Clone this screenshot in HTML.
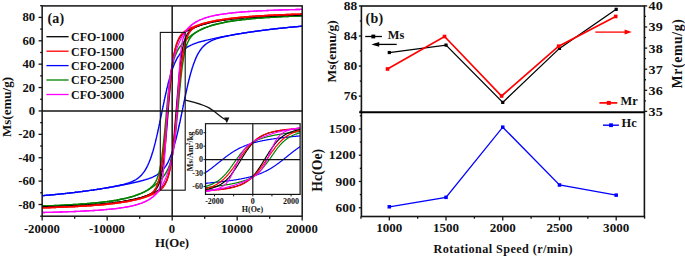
<!DOCTYPE html>
<html><head><meta charset="utf-8"><style>
html,body{margin:0;padding:0;background:#fff;width:685px;height:257px;overflow:hidden}
svg{display:block}
text{font-family:"Liberation Serif",serif;font-weight:bold}
</style></head><body>
<svg width="685" height="257" viewBox="0 0 685 257">
<clipPath id="ca"><rect x="42.15" y="5.9" width="260.05" height="210.29999999999998"/></clipPath>
<g clip-path="url(#ca)" fill="none" stroke-linejoin="round">
<path d="M42.2,195.7 43.3,195.6 44.4,195.5 45.5,195.4 46.6,195.3 47.7,195.2 48.8,195.1 50.0,195.0 51.1,194.9 52.2,194.8 53.3,194.7 54.4,194.6 55.5,194.5 56.6,194.4 57.7,194.3 58.8,194.2 59.9,194.1 61.1,193.9 62.2,193.8 63.3,193.7 64.4,193.6 65.5,193.5 66.6,193.4 67.7,193.2 68.8,193.1 69.9,193.0 71.1,192.9 72.2,192.7 73.3,192.6 74.4,192.5 75.5,192.3 76.6,192.2 77.7,192.1 78.8,191.9 79.9,191.8 81.0,191.6 82.2,191.5 83.3,191.3 84.4,191.2 85.5,191.1 86.6,190.9 87.7,190.8 88.8,190.6 89.9,190.4 91.0,190.3 92.2,190.1 93.3,190.0 94.4,189.8 95.5,189.6 96.6,189.5 97.7,189.3 98.8,189.1 99.9,189.0 101.0,188.8 102.1,188.6 103.3,188.4 104.4,188.3 105.5,188.1 106.6,187.9 107.7,187.7 108.8,187.5 109.9,187.3 111.0,187.1 112.1,186.9 113.3,186.7 114.4,186.5 115.5,186.3 116.6,186.1 117.7,185.9 118.8,185.7 119.9,185.5 121.0,185.3 122.1,185.1 123.3,184.9 124.4,184.7 125.5,184.4 126.6,184.2 127.7,184.0 128.8,183.8 129.9,183.5 131.0,183.3 132.1,183.0 133.2,182.8 134.4,182.5 135.5,182.3 136.6,182.0 137.7,181.8 138.8,181.5 139.9,181.2 141.0,180.9 141.6,180.8 142.1,180.6 142.7,180.5 143.2,180.3 143.8,180.2 144.4,180.0 144.9,179.9 145.5,179.7 146.0,179.5 146.6,179.4 147.1,179.2 147.7,179.0 148.2,178.8 148.8,178.6 149.3,178.4 149.9,178.2 150.5,178.0 151.0,177.8 151.6,177.6 152.1,177.3 152.7,177.1 153.2,176.9 153.7,176.6 154.1,176.4 154.6,176.1 155.1,175.9 155.6,175.6 156.1,175.3 156.5,175.1 157.0,174.8 157.4,174.5 157.9,174.2 158.3,173.9 158.7,173.6 159.2,173.3 159.6,172.9 160.0,172.6 160.4,172.3 160.8,171.9 161.2,171.6 161.6,171.2 162.0,170.8 162.3,170.4 162.7,170.0 163.0,169.6 163.4,169.2 163.7,168.8 164.1,168.4 164.4,167.9 164.7,167.5 165.0,167.1 165.3,166.6 165.6,166.2 165.9,165.8 166.2,165.3 166.5,164.8 166.8,164.3 167.1,163.8 167.4,163.3 167.7,162.8 167.9,162.3 168.2,161.8 168.4,161.3 168.6,160.8 168.9,160.3 169.1,159.8 169.4,159.3 169.6,158.7 169.9,158.1 170.1,157.6 170.3,157.0 170.6,156.4 170.8,155.8 171.0,155.2 171.2,154.7 171.4,154.2 171.6,153.7 171.8,153.1 172.0,152.6 172.2,152.0 172.4,151.4 172.6,150.9 172.8,150.3 173.0,149.7 173.2,149.0 173.4,148.4 173.6,147.8 173.8,147.1 174.0,146.5 174.2,145.8 174.4,145.2 174.5,144.5 174.7,143.8 174.9,143.1 175.1,142.4 175.3,141.6 175.5,140.9 175.7,140.3 175.8,139.8 176.0,139.2 176.1,138.6 176.3,138.1 176.4,137.5 176.5,136.9 176.7,136.3 176.8,135.7 177.0,135.1 177.1,134.5 177.3,133.9 177.4,133.3 177.6,132.6 177.7,132.0 177.9,131.4 178.0,130.7 178.2,130.1 178.3,129.5 178.5,128.8 178.6,128.2 178.7,127.5 178.9,126.8 179.0,126.2 179.2,125.5 179.3,124.8 179.5,124.1 179.6,123.5 179.8,122.8 179.9,122.1 180.1,121.4 180.2,120.7 180.4,120.0 180.5,119.3 180.6,118.6 180.8,117.9 180.9,117.2 181.1,116.5 181.2,115.8 181.4,115.1 181.5,114.4 181.7,113.7 181.8,113.0 182.0,112.3 182.1,111.5 182.3,110.8 182.4,110.1 182.6,109.4 182.7,108.7 182.8,108.0 183.0,107.2 183.1,106.5 183.3,105.8 183.4,105.1 183.6,104.4 183.7,103.7 183.9,103.0 184.0,102.3 184.2,101.5 184.3,100.8 184.5,100.1 184.6,99.4 184.7,98.7 184.9,98.0 185.0,97.3 185.2,96.6 185.3,95.9 185.5,95.2 185.6,94.6 185.8,93.9 185.9,93.2 186.1,92.5 186.2,91.8 186.4,91.2 186.5,90.5 186.7,89.8 186.8,89.2 186.9,88.5 187.1,87.9 187.2,87.2 187.4,86.6 187.5,85.9 187.7,85.3 187.8,84.7 188.0,84.0 188.1,83.4 188.3,82.8 188.4,82.2 188.6,81.6 188.7,81.0 188.8,80.4 189.0,79.8 189.1,79.2 189.3,78.6 189.4,78.0 189.6,77.5 189.7,76.9 189.9,76.3 190.0,75.8 190.2,75.1 190.4,74.3 190.6,73.6 190.8,72.9 191.0,72.2 191.2,71.6 191.4,70.9 191.6,70.2 192.2,68.1 192.8,66.4 193.3,64.7 193.9,63.2 194.5,61.7 195.0,60.2 195.6,58.9 196.1,57.6 196.7,56.4 197.2,55.3 197.8,54.2 198.3,53.2 198.9,52.3 199.5,51.4 200.0,50.5 200.6,49.8 201.1,49.0 201.7,48.3 202.2,47.6 202.8,47.0 203.3,46.4 203.9,45.9 204.5,45.3 205.0,44.9 205.6,44.4 206.1,43.9 206.7,43.5 207.2,43.1 207.8,42.8 208.3,42.4 208.9,42.1 209.4,41.8 210.0,41.5 210.6,41.2 211.1,40.9 211.7,40.6 212.2,40.4 212.8,40.1 213.3,39.9 213.9,39.7 214.4,39.5 215.0,39.3 215.6,39.1 216.1,38.9 216.7,38.7 217.2,38.5 217.8,38.4 218.3,38.2 218.9,38.0 219.4,37.9 220.0,37.7 220.6,37.6 221.7,37.3 222.8,37.0 223.9,36.8 225.0,36.5 226.1,36.3 227.2,36.0 228.3,35.8 229.4,35.6 230.5,35.4 231.7,35.1 232.8,34.9 233.9,34.7 235.0,34.5 236.1,34.3 237.2,34.1 238.3,33.9 239.4,33.8 240.5,33.6 241.7,33.4 242.8,33.2 243.9,33.0 245.0,32.9 246.1,32.7 247.2,32.5 248.3,32.3 249.4,32.2 250.5,32.0 251.6,31.9 252.8,31.7 253.9,31.5 255.0,31.4 256.1,31.2 257.2,31.1 258.3,30.9 259.4,30.8 260.5,30.6 261.6,30.5 262.8,30.3 263.9,30.2 265.0,30.1 266.1,29.9 267.2,29.8 268.3,29.6 269.4,29.5 270.5,29.4 271.6,29.2 272.8,29.1 273.9,29.0 275.0,28.9 276.1,28.7 277.2,28.6 278.3,28.5 279.4,28.4 280.5,28.2 281.6,28.1 282.7,28.0 283.9,27.9 285.0,27.8 286.1,27.7 287.2,27.6 288.3,27.4 289.4,27.3 290.5,27.2 291.6,27.1 292.7,27.0 293.9,26.9 295.0,26.8 296.1,26.7 297.2,26.6 298.3,26.5 299.4,26.4 300.5,26.3 301.6,26.2 302.2,26.2" stroke="#0000ff" stroke-width="1.4"/>
<path d="M42.2,195.7 43.3,195.6 44.4,195.5 45.5,195.4 46.6,195.3 47.7,195.2 48.8,195.1 50.0,195.0 51.1,194.9 52.2,194.8 53.3,194.7 54.4,194.6 55.5,194.5 56.6,194.4 57.7,194.3 58.8,194.2 59.9,194.1 61.1,193.9 62.2,193.8 63.3,193.7 64.4,193.6 65.5,193.5 66.6,193.4 67.7,193.2 68.8,193.1 69.9,193.0 71.1,192.9 72.2,192.7 73.3,192.6 74.4,192.5 75.5,192.3 76.6,192.2 77.7,192.1 78.8,191.9 79.9,191.8 81.0,191.6 82.2,191.5 83.3,191.3 84.4,191.2 85.5,191.1 86.6,190.9 87.7,190.8 88.8,190.6 89.9,190.4 91.0,190.3 92.2,190.1 93.3,190.0 94.4,189.8 95.5,189.6 96.6,189.5 97.7,189.3 98.8,189.1 99.9,189.0 101.0,188.8 102.1,188.6 103.3,188.4 104.4,188.2 105.5,188.0 106.6,187.9 107.7,187.7 108.8,187.5 109.9,187.3 111.0,187.1 112.1,186.9 113.3,186.7 114.4,186.4 115.5,186.2 116.6,186.0 117.7,185.8 118.8,185.5 119.9,185.3 121.0,185.0 122.1,184.7 123.3,184.5 124.4,184.2 124.9,184.0 125.5,183.9 126.0,183.7 126.6,183.5 127.1,183.4 127.7,183.2 128.2,183.0 128.8,182.8 129.4,182.6 129.9,182.4 130.5,182.2 131.0,182.0 131.6,181.8 132.1,181.5 132.7,181.3 133.2,181.0 133.8,180.7 134.4,180.4 134.9,180.1 135.5,179.8 136.0,179.5 136.6,179.1 137.1,178.8 137.7,178.4 138.2,178.0 138.8,177.5 139.4,177.0 139.9,176.6 140.5,176.0 141.0,175.5 141.6,174.9 142.1,174.3 142.7,173.6 143.2,172.9 143.8,172.1 144.4,171.4 144.9,170.5 145.5,169.6 146.0,168.7 146.6,167.7 147.1,166.6 147.7,165.5 148.2,164.3 148.8,163.0 149.3,161.7 149.9,160.2 150.5,158.7 151.0,157.2 151.6,155.5 152.1,153.8 152.7,152.0 152.9,151.3 153.1,150.7 153.3,150.0 153.5,149.3 153.7,148.6 153.9,147.9 154.0,147.2 154.2,146.5 154.4,145.7 154.6,145.2 154.7,144.6 154.9,144.0 155.0,143.5 155.2,142.9 155.3,142.3 155.5,141.7 155.6,141.1 155.8,140.5 155.9,139.9 156.0,139.3 156.2,138.7 156.3,138.1 156.5,137.4 156.6,136.8 156.8,136.2 156.9,135.5 157.1,134.9 157.2,134.3 157.4,133.6 157.5,132.9 157.7,132.3 157.8,131.6 158.0,131.0 158.1,130.3 158.2,129.6 158.4,128.9 158.5,128.3 158.7,127.6 158.8,126.9 159.0,126.2 159.1,125.5 159.3,124.8 159.4,124.1 159.6,123.4 159.7,122.7 159.9,122.0 160.0,121.3 160.1,120.6 160.3,119.9 160.4,119.2 160.6,118.5 160.7,117.7 160.9,117.0 161.0,116.3 161.2,115.6 161.3,114.9 161.5,114.2 161.6,113.5 161.8,112.7 161.9,112.0 162.1,111.3 162.2,110.6 162.3,109.9 162.5,109.2 162.6,108.5 162.8,107.7 162.9,107.0 163.1,106.3 163.2,105.6 163.4,104.9 163.5,104.2 163.7,103.5 163.8,102.8 164.0,102.1 164.1,101.4 164.2,100.7 164.4,100.0 164.5,99.3 164.7,98.7 164.8,98.0 165.0,97.3 165.1,96.6 165.3,96.0 165.4,95.3 165.6,94.6 165.7,94.0 165.9,93.3 166.0,92.7 166.2,92.0 166.3,91.4 166.4,90.7 166.6,90.1 166.7,89.5 166.9,88.8 167.0,88.2 167.2,87.6 167.3,87.0 167.5,86.4 167.6,85.8 167.8,85.2 167.9,84.6 168.1,84.0 168.2,83.4 168.3,82.9 168.5,82.3 168.6,81.7 168.8,81.2 169.0,80.4 169.2,79.7 169.4,79.0 169.6,78.3 169.8,77.6 170.0,76.9 170.2,76.2 170.3,75.6 170.5,74.9 170.7,74.3 170.9,73.6 171.1,73.0 171.3,72.4 171.5,71.8 171.7,71.2 171.9,70.6 172.1,70.0 172.3,69.5 172.5,68.9 172.7,68.4 172.9,67.8 173.1,67.3 173.3,66.8 173.5,66.3 173.7,65.6 174.0,65.0 174.2,64.4 174.4,63.9 174.7,63.3 174.9,62.7 175.2,62.2 175.4,61.7 175.7,61.2 175.9,60.7 176.2,60.2 176.4,59.7 176.6,59.2 176.9,58.7 177.2,58.2 177.5,57.7 177.8,57.2 178.1,56.7 178.4,56.2 178.7,55.8 179.0,55.3 179.3,54.9 179.6,54.5 179.9,54.0 180.3,53.6 180.6,53.2 180.9,52.7 181.3,52.3 181.6,51.9 182.0,51.6 182.3,51.2 182.7,50.8 183.1,50.4 183.5,50.1 183.9,49.7 184.3,49.4 184.7,49.1 185.0,48.7 185.5,48.4 185.9,48.1 186.4,47.8 186.8,47.5 187.2,47.2 187.7,46.9 188.1,46.6 188.6,46.4 189.1,46.1 189.6,45.8 190.1,45.6 190.6,45.3 191.0,45.1 191.5,44.9 192.2,44.6 192.8,44.3 193.3,44.1 193.9,43.9 194.5,43.7 195.0,43.5 195.6,43.3 196.1,43.1 196.7,42.9 197.2,42.7 197.8,42.5 198.3,42.4 198.9,42.2 199.5,42.0 200.0,41.9 200.6,41.7 201.1,41.6 201.7,41.4 202.2,41.3 202.8,41.1 203.3,41.0 204.5,40.7 205.6,40.4 206.7,40.1 207.8,39.9 208.9,39.6 210.0,39.4 211.1,39.1 212.2,38.9 213.3,38.6 214.4,38.4 215.6,38.1 216.7,37.9 217.8,37.7 218.9,37.5 220.0,37.2 221.1,37.0 222.2,36.8 223.3,36.6 224.4,36.4 225.6,36.2 226.7,36.0 227.8,35.8 228.9,35.6 230.0,35.4 231.1,35.2 232.2,35.0 233.3,34.8 234.4,34.6 235.5,34.4 236.7,34.2 237.8,34.0 238.9,33.8 240.0,33.6 241.1,33.5 242.2,33.3 243.3,33.1 244.4,32.9 245.5,32.8 246.7,32.6 247.8,32.4 248.9,32.3 250.0,32.1 251.1,31.9 252.2,31.8 253.3,31.6 254.4,31.5 255.5,31.3 256.6,31.1 257.8,31.0 258.9,30.8 260.0,30.7 261.1,30.6 262.2,30.4 263.3,30.3 264.4,30.1 265.5,30.0 266.6,29.8 267.8,29.7 268.9,29.6 270.0,29.4 271.1,29.3 272.2,29.2 273.3,29.0 274.4,28.9 275.5,28.8 276.6,28.7 277.7,28.5 278.9,28.4 280.0,28.3 281.1,28.2 282.2,28.1 283.3,28.0 284.4,27.8 285.5,27.7 286.6,27.6 287.7,27.5 288.9,27.4 290.0,27.3 291.1,27.2 292.2,27.1 293.3,27.0 294.4,26.9 295.5,26.8 296.6,26.7 297.7,26.6 298.8,26.5 300.0,26.4 301.1,26.3 302.2,26.2" stroke="#0000ff" stroke-width="1.4"/>
<path d="M42.2,206.1 43.3,206.1 44.4,206.0 45.5,206.0 46.6,205.9 47.7,205.9 48.8,205.8 50.0,205.8 51.1,205.8 52.2,205.7 53.3,205.7 54.4,205.6 55.5,205.6 56.6,205.5 57.7,205.5 58.8,205.4 59.9,205.4 61.1,205.3 62.2,205.3 63.3,205.2 64.4,205.1 65.5,205.1 66.6,205.0 67.7,205.0 68.8,204.9 69.9,204.8 71.1,204.8 72.2,204.7 73.3,204.6 74.4,204.6 75.5,204.5 76.6,204.4 77.7,204.4 78.8,204.3 79.9,204.2 81.0,204.1 82.2,204.1 83.3,204.0 84.4,203.9 85.5,203.8 86.6,203.7 87.7,203.6 88.8,203.5 89.9,203.4 91.0,203.3 92.2,203.2 93.3,203.1 94.4,203.0 95.5,202.9 96.6,202.8 97.7,202.7 98.8,202.6 99.9,202.5 101.0,202.3 102.1,202.2 103.3,202.1 104.4,202.0 105.5,201.8 106.6,201.7 107.7,201.5 108.8,201.4 109.9,201.2 111.0,201.1 112.1,200.9 113.3,200.7 114.4,200.5 115.5,200.4 116.6,200.2 117.7,200.0 118.8,199.8 119.9,199.5 121.0,199.3 122.1,199.1 123.3,198.9 124.4,198.6 125.5,198.4 126.6,198.1 127.7,197.8 128.8,197.5 129.4,197.4 129.9,197.2 130.5,197.1 131.0,196.9 131.6,196.8 132.1,196.6 132.7,196.4 133.2,196.3 133.8,196.1 134.4,195.9 134.9,195.7 135.5,195.5 136.0,195.3 136.6,195.1 137.1,194.9 137.7,194.7 138.2,194.5 138.8,194.3 139.4,194.1 139.9,193.9 140.5,193.6 141.0,193.4 141.6,193.2 142.1,192.9 142.7,192.7 143.2,192.4 143.8,192.1 144.4,191.9 144.9,191.6 145.5,191.3 146.0,191.0 146.6,190.7 147.1,190.4 147.7,190.1 148.2,189.8 148.8,189.4 149.3,189.1 149.9,188.7 150.5,188.4 151.0,188.0 151.6,187.6 152.1,187.2 152.7,186.8 153.1,186.5 153.6,186.2 154.0,185.9 154.4,185.5 154.8,185.2 155.2,184.9 155.6,184.6 156.0,184.2 156.4,183.9 156.8,183.6 157.2,183.2 157.6,182.9 158.0,182.5 158.3,182.1 158.7,181.7 159.1,181.4 159.5,181.0 159.9,180.6 160.3,180.2 160.6,179.8 161.0,179.4 161.3,179.0 161.7,178.6 162.0,178.2 162.3,177.8 162.7,177.4 163.0,177.0 163.4,176.6 163.7,176.1 164.1,175.6 164.4,175.2 164.7,174.8 165.0,174.3 165.3,173.9 165.6,173.4 165.9,173.0 166.2,172.5 166.4,172.0 166.7,171.4 167.0,170.9 167.3,170.4 167.5,170.0 167.8,169.5 168.0,168.9 168.3,168.4 168.5,167.8 168.7,167.3 169.0,166.7 169.2,166.0 169.4,165.5 169.6,165.0 169.8,164.4 170.0,163.8 170.2,163.2 170.4,162.6 170.6,161.9 170.8,161.2 171.0,160.5 171.2,159.8 171.3,159.2 171.5,158.6 171.6,158.0 171.8,157.4 171.9,156.8 172.1,156.1 172.2,155.4 172.4,154.7 172.5,154.0 172.6,153.2 172.8,152.5 172.9,151.7 173.1,150.9 173.2,150.0 173.4,149.2 173.5,148.3 173.6,147.6 173.7,147.0 173.8,146.4 173.9,145.7 174.0,145.1 174.1,144.4 174.2,143.7 174.3,143.0 174.4,142.3 174.5,141.6 174.6,140.9 174.7,140.1 174.8,139.4 174.9,138.6 175.0,137.8 175.1,137.0 175.2,136.2 175.3,135.4 175.4,134.6 175.5,133.7 175.6,132.9 175.7,132.0 175.8,131.1 175.9,130.2 176.0,129.3 176.1,128.4 176.2,127.5 176.3,126.6 176.4,125.6 176.5,124.7 176.5,123.7 176.6,122.7 176.7,121.7 176.8,120.7 176.9,119.7 177.0,118.7 177.1,117.7 177.2,116.7 177.3,115.6 177.4,114.6 177.5,113.6 177.6,112.5 177.7,111.5 177.8,110.4 177.9,109.3 178.0,108.3 178.1,107.2 178.2,106.2 178.3,105.1 178.4,104.0 178.5,102.9 178.6,101.9 178.7,100.8 178.8,99.7 178.9,98.7 179.0,97.6 179.1,96.5 179.2,95.5 179.3,94.4 179.4,93.4 179.5,92.3 179.6,91.3 179.7,90.3 179.8,89.3 179.9,88.2 180.0,87.2 180.1,86.2 180.2,85.2 180.3,84.3 180.4,83.3 180.5,82.3 180.6,81.4 180.6,80.4 180.7,79.5 180.8,78.6 180.9,77.7 181.0,76.8 181.1,75.9 181.2,75.0 181.3,74.1 181.4,73.3 181.5,72.4 181.6,71.6 181.7,70.8 181.8,70.0 181.9,69.2 182.0,68.4 182.1,67.7 182.2,66.9 182.3,66.2 182.4,65.5 182.5,64.8 182.6,64.1 182.7,63.4 182.8,62.7 182.9,62.1 183.0,61.4 183.1,60.8 183.2,60.2 183.3,59.6 183.4,58.7 183.6,57.8 183.7,57.0 183.9,56.2 184.0,55.4 184.2,54.6 184.3,53.9 184.5,53.2 184.6,52.5 184.7,51.8 184.9,51.2 185.0,50.6 185.2,50.0 185.3,49.4 185.5,48.8 185.7,48.1 185.9,47.4 186.1,46.8 186.3,46.1 186.5,45.5 186.7,45.0 186.8,44.4 187.0,43.9 187.3,43.3 187.5,42.7 187.8,42.1 188.0,41.6 188.3,41.1 188.5,40.6 188.8,40.1 189.1,39.6 189.4,39.1 189.7,38.6 190.0,38.2 190.3,37.8 190.6,37.3 190.9,36.9 191.3,36.5 191.6,36.1 192.2,35.5 192.8,35.0 193.3,34.5 193.9,34.0 194.5,33.5 195.0,33.1 195.6,32.7 196.1,32.4 196.7,32.0 197.2,31.6 197.8,31.3 198.3,31.0 198.9,30.7 199.5,30.4 200.0,30.1 200.6,29.8 201.1,29.5 201.7,29.3 202.2,29.0 202.8,28.8 203.3,28.5 203.9,28.3 204.5,28.0 205.0,27.8 205.6,27.6 206.1,27.4 206.7,27.2 207.2,27.0 207.8,26.8 208.3,26.6 208.9,26.4 209.4,26.2 210.0,26.0 210.6,25.8 211.1,25.6 211.7,25.5 212.2,25.3 212.8,25.1 213.3,25.0 213.9,24.8 214.4,24.7 215.0,24.5 215.6,24.4 216.1,24.2 217.2,23.9 218.3,23.7 219.4,23.4 220.6,23.2 221.7,22.9 222.8,22.7 223.9,22.5 225.0,22.2 226.1,22.0 227.2,21.8 228.3,21.6 229.4,21.5 230.5,21.3 231.7,21.1 232.8,20.9 233.9,20.8 235.0,20.6 236.1,20.4 237.2,20.3 238.3,20.2 239.4,20.0 240.5,19.9 241.7,19.7 242.8,19.6 243.9,19.5 245.0,19.4 246.1,19.3 247.2,19.1 248.3,19.0 249.4,18.9 250.5,18.8 251.6,18.7 252.8,18.6 253.9,18.5 255.0,18.4 256.1,18.3 257.2,18.2 258.3,18.1 259.4,18.1 260.5,18.0 261.6,17.9 262.8,17.8 263.9,17.7 265.0,17.6 266.1,17.6 267.2,17.5 268.3,17.4 269.4,17.4 270.5,17.3 271.6,17.2 272.8,17.2 273.9,17.1 275.0,17.0 276.1,17.0 277.2,16.9 278.3,16.8 279.4,16.8 280.5,16.7 281.6,16.7 282.7,16.6 283.9,16.6 285.0,16.5 286.1,16.5 287.2,16.4 288.3,16.4 289.4,16.3 290.5,16.3 291.6,16.2 292.7,16.2 293.9,16.1 295.0,16.1 296.1,16.0 297.2,16.0 298.3,15.9 299.4,15.9 300.5,15.9 301.6,15.8 302.2,15.8" stroke="#008000" stroke-width="1.5"/>
<path d="M42.2,206.1 43.3,206.1 44.4,206.0 45.5,206.0 46.6,205.9 47.7,205.9 48.8,205.8 50.0,205.8 51.1,205.8 52.2,205.7 53.3,205.7 54.4,205.6 55.5,205.6 56.6,205.5 57.7,205.5 58.8,205.4 59.9,205.4 61.1,205.3 62.2,205.3 63.3,205.2 64.4,205.1 65.5,205.1 66.6,205.0 67.7,205.0 68.8,204.9 69.9,204.8 71.1,204.8 72.2,204.7 73.3,204.6 74.4,204.6 75.5,204.5 76.6,204.4 77.7,204.4 78.8,204.3 79.9,204.2 81.0,204.1 82.2,204.1 83.3,204.0 84.4,203.9 85.5,203.8 86.6,203.7 87.7,203.6 88.8,203.5 89.9,203.4 91.0,203.3 92.2,203.2 93.3,203.1 94.4,203.0 95.5,202.9 96.6,202.8 97.7,202.7 98.8,202.6 99.9,202.5 101.0,202.3 102.1,202.2 103.3,202.1 104.4,202.0 105.5,201.8 106.6,201.7 107.7,201.5 108.8,201.4 109.9,201.2 111.0,201.1 112.1,200.9 113.3,200.7 114.4,200.5 115.5,200.4 116.6,200.2 117.7,200.0 118.8,199.8 119.9,199.5 121.0,199.3 122.1,199.1 123.3,198.9 124.4,198.6 125.5,198.4 126.6,198.1 127.7,197.8 128.8,197.5 129.4,197.4 129.9,197.2 130.5,197.1 131.0,196.9 131.6,196.8 132.1,196.6 132.7,196.4 133.2,196.3 133.8,196.1 134.4,195.9 134.9,195.7 135.5,195.5 136.0,195.3 136.6,195.1 137.1,194.9 137.7,194.7 138.2,194.5 138.8,194.3 139.4,194.1 139.9,193.9 140.5,193.6 141.0,193.4 141.6,193.1 142.1,192.9 142.7,192.6 143.2,192.4 143.8,192.1 144.4,191.8 144.9,191.5 145.5,191.2 146.0,190.9 146.6,190.6 147.1,190.3 147.7,189.9 148.2,189.5 148.8,189.2 149.3,188.8 149.9,188.4 150.5,187.9 151.0,187.4 151.6,186.9 152.1,186.4 152.7,185.8 153.0,185.4 153.4,185.0 153.7,184.6 154.0,184.2 154.4,183.7 154.7,183.3 155.0,182.8 155.3,182.3 155.6,181.8 155.9,181.3 156.1,180.8 156.3,180.3 156.6,179.8 156.8,179.2 157.1,178.6 157.3,178.0 157.5,177.5 157.7,176.9 157.9,176.4 158.1,175.8 158.3,175.1 158.5,174.5 158.7,173.8 158.9,173.1 159.0,172.5 159.2,171.9 159.3,171.3 159.5,170.7 159.6,170.1 159.8,169.4 159.9,168.7 160.1,168.0 160.2,167.3 160.3,166.5 160.5,165.7 160.6,164.9 160.8,164.1 160.9,163.2 161.1,162.3 161.2,161.7 161.3,161.1 161.4,160.5 161.5,159.8 161.6,159.2 161.7,158.5 161.8,157.8 161.9,157.1 162.0,156.4 162.1,155.7 162.1,155.0 162.2,154.2 162.3,153.5 162.4,152.7 162.5,151.9 162.6,151.1 162.7,150.3 162.8,149.5 162.9,148.6 163.0,147.8 163.1,146.9 163.2,146.0 163.3,145.1 163.4,144.2 163.5,143.3 163.6,142.4 163.7,141.5 163.8,140.5 163.9,139.6 164.0,138.6 164.1,137.6 164.2,136.7 164.3,135.7 164.4,134.7 164.5,133.7 164.6,132.6 164.7,131.6 164.8,130.6 164.9,129.6 165.0,128.5 165.1,127.5 165.2,126.4 165.3,125.4 165.4,124.3 165.5,123.2 165.6,122.2 165.7,121.1 165.8,120.0 165.9,119.0 166.0,117.9 166.1,116.8 166.2,115.7 166.2,114.7 166.3,113.6 166.4,112.6 166.5,111.5 166.6,110.4 166.7,109.4 166.8,108.3 166.9,107.3 167.0,106.3 167.1,105.2 167.2,104.2 167.3,103.2 167.4,102.2 167.5,101.2 167.6,100.2 167.7,99.2 167.8,98.2 167.9,97.2 168.0,96.3 168.1,95.3 168.2,94.4 168.3,93.5 168.4,92.6 168.5,91.7 168.6,90.8 168.7,89.9 168.8,89.0 168.9,88.2 169.0,87.3 169.1,86.5 169.2,85.7 169.3,84.9 169.4,84.1 169.5,83.3 169.6,82.5 169.7,81.8 169.8,81.0 169.9,80.3 170.0,79.6 170.1,78.9 170.2,78.2 170.3,77.5 170.3,76.8 170.4,76.2 170.5,75.5 170.6,74.9 170.7,74.3 170.8,73.6 171.0,72.7 171.1,71.9 171.3,71.0 171.4,70.2 171.6,69.4 171.7,68.7 171.9,67.9 172.0,67.2 172.2,66.5 172.3,65.8 172.4,65.1 172.6,64.5 172.7,63.9 172.9,63.3 173.0,62.7 173.2,62.1 173.3,61.5 173.5,60.8 173.7,60.1 173.9,59.5 174.1,58.8 174.3,58.2 174.5,57.6 174.7,57.1 174.9,56.5 175.1,56.0 175.3,55.5 175.5,54.9 175.8,54.3 176.0,53.7 176.3,53.2 176.5,52.6 176.7,52.1 177.0,51.6 177.2,51.2 177.5,50.7 177.8,50.2 178.1,49.7 178.4,49.2 178.6,48.7 178.9,48.2 179.2,47.8 179.5,47.4 179.8,46.9 180.1,46.5 180.5,46.1 180.8,45.6 181.1,45.2 181.5,44.7 181.8,44.3 182.2,43.9 182.5,43.5 182.8,43.1 183.2,42.7 183.5,42.3 183.9,42.0 184.2,41.6 184.6,41.2 185.0,40.8 185.4,40.4 185.8,40.0 186.2,39.6 186.6,39.3 186.9,38.9 187.3,38.6 187.7,38.2 188.1,37.9 188.5,37.5 188.9,37.2 189.3,36.9 189.7,36.6 190.1,36.2 190.6,35.9 191.0,35.6 191.4,35.2 192.2,34.7 192.8,34.3 193.3,33.9 193.9,33.5 194.5,33.2 195.0,32.8 195.6,32.5 196.1,32.1 196.7,31.8 197.2,31.5 197.8,31.2 198.3,30.9 198.9,30.6 199.5,30.3 200.0,30.0 200.6,29.8 201.1,29.5 201.7,29.2 202.2,29.0 202.8,28.7 203.3,28.5 203.9,28.3 204.5,28.0 205.0,27.8 205.6,27.6 206.1,27.4 206.7,27.2 207.2,27.0 207.8,26.8 208.3,26.6 208.9,26.4 209.4,26.2 210.0,26.0 210.6,25.8 211.1,25.6 211.7,25.5 212.2,25.3 212.8,25.1 213.3,25.0 213.9,24.8 214.4,24.7 215.0,24.5 215.6,24.4 216.1,24.2 217.2,23.9 218.3,23.7 219.4,23.4 220.6,23.2 221.7,22.9 222.8,22.7 223.9,22.5 225.0,22.2 226.1,22.0 227.2,21.8 228.3,21.6 229.4,21.5 230.5,21.3 231.7,21.1 232.8,20.9 233.9,20.8 235.0,20.6 236.1,20.4 237.2,20.3 238.3,20.2 239.4,20.0 240.5,19.9 241.7,19.7 242.8,19.6 243.9,19.5 245.0,19.4 246.1,19.3 247.2,19.1 248.3,19.0 249.4,18.9 250.5,18.8 251.6,18.7 252.8,18.6 253.9,18.5 255.0,18.4 256.1,18.3 257.2,18.2 258.3,18.1 259.4,18.1 260.5,18.0 261.6,17.9 262.8,17.8 263.9,17.7 265.0,17.6 266.1,17.6 267.2,17.5 268.3,17.4 269.4,17.4 270.5,17.3 271.6,17.2 272.8,17.2 273.9,17.1 275.0,17.0 276.1,17.0 277.2,16.9 278.3,16.8 279.4,16.8 280.5,16.7 281.6,16.7 282.7,16.6 283.9,16.6 285.0,16.5 286.1,16.5 287.2,16.4 288.3,16.4 289.4,16.3 290.5,16.3 291.6,16.2 292.7,16.2 293.9,16.1 295.0,16.1 296.1,16.0 297.2,16.0 298.3,15.9 299.4,15.9 300.5,15.9 301.6,15.8 302.2,15.8" stroke="#008000" stroke-width="1.5"/>
<path d="M42.2,207.1 43.3,207.0 44.4,207.0 45.5,207.0 46.6,206.9 47.7,206.9 48.8,206.9 50.0,206.8 51.1,206.8 52.2,206.8 53.3,206.7 54.4,206.7 55.5,206.6 56.6,206.6 57.7,206.6 58.8,206.5 59.9,206.5 61.1,206.4 62.2,206.4 63.3,206.3 64.4,206.3 65.5,206.3 66.6,206.2 67.7,206.2 68.8,206.1 69.9,206.1 71.1,206.0 72.2,206.0 73.3,205.9 74.4,205.8 75.5,205.8 76.6,205.7 77.7,205.7 78.8,205.6 79.9,205.6 81.0,205.5 82.2,205.4 83.3,205.4 84.4,205.3 85.5,205.2 86.6,205.2 87.7,205.1 88.8,205.0 89.9,204.9 91.0,204.9 92.2,204.8 93.3,204.7 94.4,204.6 95.5,204.5 96.6,204.5 97.7,204.4 98.8,204.3 99.9,204.2 101.0,204.1 102.1,204.0 103.3,203.9 104.4,203.8 105.5,203.7 106.6,203.6 107.7,203.4 108.8,203.3 109.9,203.2 111.0,203.1 112.1,203.0 113.3,202.8 114.4,202.7 115.5,202.5 116.6,202.4 117.7,202.2 118.8,202.1 119.9,201.9 121.0,201.8 122.1,201.6 123.3,201.4 124.4,201.2 125.5,201.0 126.6,200.9 127.7,200.6 128.8,200.4 129.9,200.2 131.0,200.0 132.1,199.8 133.2,199.5 134.4,199.3 135.5,199.0 136.6,198.7 137.7,198.4 138.2,198.3 138.8,198.1 139.4,198.0 139.9,197.8 140.5,197.7 141.0,197.5 141.6,197.3 142.1,197.2 142.7,197.0 143.2,196.8 143.8,196.6 144.4,196.5 144.9,196.3 145.5,196.1 146.0,195.9 146.6,195.7 147.1,195.5 147.7,195.3 148.2,195.1 148.8,194.9 149.3,194.6 149.9,194.4 150.5,194.2 151.0,193.9 151.6,193.7 152.1,193.5 152.7,193.2 153.2,193.0 153.7,192.7 154.1,192.5 154.6,192.3 155.1,192.0 155.6,191.8 156.1,191.5 156.6,191.2 157.1,190.9 157.6,190.7 158.0,190.4 158.4,190.1 158.9,189.8 159.3,189.5 159.8,189.2 160.2,188.9 160.6,188.5 161.0,188.2 161.4,187.9 161.8,187.5 162.2,187.2 162.6,186.8 162.9,186.4 163.3,186.0 163.6,185.6 164.0,185.2 164.3,184.7 164.6,184.3 164.9,183.8 165.2,183.4 165.5,182.9 165.8,182.3 166.0,181.8 166.2,181.3 166.5,180.8 166.7,180.3 167.0,179.7 167.2,179.0 167.4,178.5 167.6,178.0 167.8,177.4 168.0,176.8 168.2,176.1 168.4,175.5 168.6,174.8 168.8,174.0 168.9,173.5 169.1,172.9 169.2,172.2 169.4,171.6 169.5,170.9 169.7,170.3 169.8,169.6 170.0,168.8 170.1,168.1 170.3,167.3 170.4,166.5 170.5,165.6 170.7,164.8 170.8,163.9 170.9,163.3 171.0,162.6 171.1,162.0 171.2,161.3 171.3,160.7 171.4,160.0 171.5,159.3 171.6,158.6 171.7,157.9 171.8,157.1 171.9,156.4 172.0,155.6 172.1,154.8 172.2,154.0 172.3,153.2 172.4,152.4 172.5,151.5 172.6,150.7 172.7,149.8 172.8,148.9 172.9,148.0 173.0,147.1 173.1,146.2 173.2,145.2 173.3,144.3 173.4,143.3 173.5,142.3 173.6,141.3 173.7,140.3 173.8,139.3 173.9,138.2 174.0,137.2 174.1,136.1 174.2,135.0 174.3,133.9 174.4,132.8 174.4,131.7 174.5,130.6 174.6,129.4 174.7,128.3 174.8,127.1 174.9,126.0 175.0,124.8 175.1,123.6 175.2,122.4 175.3,121.2 175.4,120.0 175.5,118.8 175.6,117.6 175.7,116.4 175.8,115.2 175.9,113.9 176.0,112.7 176.1,111.5 176.2,110.3 176.3,109.0 176.4,107.8 176.5,106.6 176.6,105.3 176.7,104.1 176.8,102.9 176.9,101.6 177.0,100.4 177.1,99.2 177.2,98.0 177.3,96.8 177.4,95.6 177.5,94.4 177.6,93.2 177.7,92.0 177.8,90.8 177.9,89.7 178.0,88.5 178.1,87.3 178.2,86.2 178.3,85.1 178.4,84.0 178.5,82.9 178.5,81.8 178.6,80.7 178.7,79.6 178.8,78.6 178.9,77.5 179.0,76.5 179.1,75.5 179.2,74.5 179.3,73.5 179.4,72.5 179.5,71.6 179.6,70.6 179.7,69.7 179.8,68.8 179.9,67.9 180.0,67.0 180.1,66.1 180.2,65.2 180.3,64.4 180.4,63.6 180.5,62.8 180.6,62.0 180.7,61.2 180.8,60.4 180.9,59.7 181.0,58.9 181.1,58.2 181.2,57.5 181.3,56.8 181.4,56.1 181.5,55.5 181.6,54.8 181.7,54.2 181.8,53.5 181.9,52.9 182.0,52.0 182.2,51.2 182.3,50.3 182.5,49.5 182.6,48.7 182.7,48.0 182.9,47.3 183.0,46.6 183.2,45.9 183.3,45.2 183.5,44.6 183.6,44.0 183.8,43.4 183.9,42.9 184.1,42.1 184.3,41.4 184.5,40.8 184.7,40.2 184.9,39.6 185.1,39.0 185.3,38.5 185.5,38.0 185.7,37.3 186.0,36.8 186.2,36.2 186.5,35.7 186.7,35.3 187.0,34.7 187.3,34.2 187.6,33.7 187.9,33.3 188.2,32.9 188.5,32.5 188.8,32.0 189.2,31.6 189.5,31.3 189.9,30.9 190.3,30.5 190.7,30.2 191.1,29.9 191.5,29.6 192.2,29.1 192.8,28.7 193.3,28.4 193.9,28.1 194.5,27.8 195.0,27.5 195.6,27.2 196.1,27.0 196.7,26.8 197.2,26.5 197.8,26.3 198.3,26.1 198.9,25.9 199.5,25.7 200.0,25.5 200.6,25.3 201.1,25.1 201.7,24.9 202.2,24.7 202.8,24.6 203.3,24.4 203.9,24.2 204.5,24.1 205.0,23.9 205.6,23.8 206.1,23.6 206.7,23.5 207.8,23.2 208.9,22.9 210.0,22.6 211.1,22.4 212.2,22.1 213.3,21.9 214.4,21.7 215.6,21.5 216.7,21.3 217.8,21.0 218.9,20.9 220.0,20.7 221.1,20.5 222.2,20.3 223.3,20.1 224.4,20.0 225.6,19.8 226.7,19.7 227.8,19.5 228.9,19.4 230.0,19.2 231.1,19.1 232.2,18.9 233.3,18.8 234.4,18.7 235.5,18.6 236.7,18.5 237.8,18.3 238.9,18.2 240.0,18.1 241.1,18.0 242.2,17.9 243.3,17.8 244.4,17.7 245.5,17.6 246.7,17.5 247.8,17.4 248.9,17.4 250.0,17.3 251.1,17.2 252.2,17.1 253.3,17.0 254.4,17.0 255.5,16.9 256.6,16.8 257.8,16.7 258.9,16.7 260.0,16.6 261.1,16.5 262.2,16.5 263.3,16.4 264.4,16.3 265.5,16.3 266.6,16.2 267.8,16.2 268.9,16.1 270.0,16.1 271.1,16.0 272.2,15.9 273.3,15.9 274.4,15.8 275.5,15.8 276.6,15.7 277.7,15.7 278.9,15.6 280.0,15.6 281.1,15.6 282.2,15.5 283.3,15.5 284.4,15.4 285.5,15.4 286.6,15.3 287.7,15.3 288.9,15.3 290.0,15.2 291.1,15.2 292.2,15.1 293.3,15.1 294.4,15.1 295.5,15.0 296.6,15.0 297.7,15.0 298.8,14.9 300.0,14.9 301.1,14.9 302.2,14.8" stroke="#000000" stroke-width="1.3"/>
<path d="M42.2,207.1 43.3,207.0 44.4,207.0 45.5,207.0 46.6,206.9 47.7,206.9 48.8,206.9 50.0,206.8 51.1,206.8 52.2,206.8 53.3,206.7 54.4,206.7 55.5,206.6 56.6,206.6 57.7,206.6 58.8,206.5 59.9,206.5 61.1,206.4 62.2,206.4 63.3,206.3 64.4,206.3 65.5,206.3 66.6,206.2 67.7,206.2 68.8,206.1 69.9,206.1 71.1,206.0 72.2,206.0 73.3,205.9 74.4,205.8 75.5,205.8 76.6,205.7 77.7,205.7 78.8,205.6 79.9,205.6 81.0,205.5 82.2,205.4 83.3,205.4 84.4,205.3 85.5,205.2 86.6,205.2 87.7,205.1 88.8,205.0 89.9,204.9 91.0,204.9 92.2,204.8 93.3,204.7 94.4,204.6 95.5,204.5 96.6,204.5 97.7,204.4 98.8,204.3 99.9,204.2 101.0,204.1 102.1,204.0 103.3,203.9 104.4,203.8 105.5,203.7 106.6,203.6 107.7,203.4 108.8,203.3 109.9,203.2 111.0,203.1 112.1,203.0 113.3,202.8 114.4,202.7 115.5,202.5 116.6,202.4 117.7,202.2 118.8,202.1 119.9,201.9 121.0,201.8 122.1,201.6 123.3,201.4 124.4,201.2 125.5,201.0 126.6,200.9 127.7,200.6 128.8,200.4 129.9,200.2 131.0,200.0 132.1,199.8 133.2,199.5 134.4,199.3 135.5,199.0 136.6,198.7 137.7,198.4 138.2,198.3 138.8,198.1 139.4,198.0 139.9,197.8 140.5,197.7 141.0,197.5 141.6,197.3 142.1,197.2 142.7,197.0 143.2,196.8 143.8,196.6 144.4,196.4 144.9,196.2 145.5,196.0 146.0,195.8 146.6,195.6 147.1,195.4 147.7,195.1 148.2,194.9 148.8,194.7 149.3,194.4 149.9,194.1 150.5,193.8 151.0,193.5 151.6,193.2 152.1,192.8 152.7,192.5 153.1,192.1 153.6,191.8 153.9,191.4 154.3,191.1 154.7,190.7 155.1,190.3 155.5,189.9 155.8,189.5 156.1,189.1 156.5,188.6 156.8,188.2 157.1,187.7 157.4,187.2 157.7,186.6 157.9,186.2 158.1,185.7 158.4,185.1 158.6,184.6 158.9,183.9 159.1,183.4 159.3,182.9 159.5,182.3 159.7,181.7 159.9,181.1 160.1,180.5 160.2,179.8 160.4,179.0 160.6,178.5 160.7,177.9 160.9,177.3 161.0,176.7 161.2,176.0 161.3,175.3 161.5,174.6 161.6,173.9 161.8,173.2 161.9,172.4 162.1,171.6 162.2,170.7 162.3,169.9 162.5,169.0 162.6,168.4 162.7,167.7 162.8,167.1 162.9,166.4 163.0,165.8 163.1,165.1 163.2,164.4 163.3,163.7 163.4,163.0 163.5,162.2 163.6,161.5 163.7,160.7 163.8,159.9 163.9,159.1 164.0,158.3 164.1,157.5 164.2,156.7 164.2,155.8 164.3,154.9 164.4,154.0 164.5,153.1 164.6,152.2 164.7,151.3 164.8,150.3 164.9,149.4 165.0,148.4 165.1,147.4 165.2,146.4 165.3,145.4 165.4,144.4 165.5,143.3 165.6,142.3 165.7,141.2 165.8,140.1 165.9,139.0 166.0,137.9 166.1,136.8 166.2,135.7 166.3,134.6 166.4,133.4 166.5,132.2 166.6,131.1 166.7,129.9 166.8,128.7 166.9,127.5 167.0,126.3 167.1,125.1 167.2,123.9 167.3,122.7 167.4,121.5 167.5,120.3 167.6,119.0 167.7,117.8 167.8,116.6 167.9,115.3 168.0,114.1 168.1,112.9 168.2,111.6 168.3,110.4 168.3,109.2 168.4,108.0 168.5,106.7 168.6,105.5 168.7,104.3 168.8,103.1 168.9,101.9 169.0,100.7 169.1,99.5 169.2,98.3 169.3,97.1 169.4,95.9 169.5,94.8 169.6,93.6 169.7,92.5 169.8,91.3 169.9,90.2 170.0,89.1 170.1,88.0 170.2,86.9 170.3,85.8 170.4,84.7 170.5,83.7 170.6,82.6 170.7,81.6 170.8,80.6 170.9,79.6 171.0,78.6 171.1,77.6 171.2,76.7 171.3,75.7 171.4,74.8 171.5,73.9 171.6,73.0 171.7,72.1 171.8,71.2 171.9,70.4 172.0,69.5 172.1,68.7 172.2,67.9 172.3,67.1 172.4,66.3 172.4,65.5 172.5,64.8 172.6,64.0 172.7,63.3 172.8,62.6 172.9,61.9 173.0,61.2 173.1,60.6 173.2,59.9 173.3,59.3 173.4,58.6 173.5,58.0 173.7,57.1 173.8,56.3 174.0,55.4 174.1,54.6 174.3,53.8 174.4,53.1 174.5,52.3 174.7,51.6 174.8,51.0 175.0,50.3 175.1,49.7 175.3,49.0 175.4,48.4 175.6,47.9 175.8,47.1 176.0,46.4 176.2,45.8 176.4,45.1 176.5,44.5 176.7,43.9 176.9,43.4 177.1,42.9 177.4,42.2 177.6,41.6 177.9,41.1 178.1,40.6 178.4,40.1 178.6,39.6 178.9,39.0 179.2,38.5 179.5,38.1 179.8,37.6 180.1,37.2 180.4,36.7 180.7,36.3 181.1,35.9 181.4,35.5 181.8,35.1 182.2,34.7 182.6,34.4 182.9,34.0 183.3,33.7 183.7,33.4 184.2,33.0 184.6,32.7 185.0,32.4 185.5,32.1 185.9,31.8 186.4,31.5 186.8,31.2 187.2,31.0 187.7,30.7 188.2,30.4 188.7,30.2 189.2,29.9 189.7,29.7 190.2,29.4 190.7,29.2 191.1,28.9 191.6,28.7 192.2,28.4 192.8,28.2 193.3,28.0 193.9,27.7 194.5,27.5 195.0,27.3 195.6,27.0 196.1,26.8 196.7,26.6 197.2,26.4 197.8,26.2 198.3,26.0 198.9,25.8 199.5,25.6 200.0,25.4 200.6,25.3 201.1,25.1 201.7,24.9 202.2,24.7 202.8,24.6 203.3,24.4 203.9,24.2 204.5,24.1 205.0,23.9 205.6,23.8 206.1,23.6 206.7,23.5 207.8,23.2 208.9,22.9 210.0,22.6 211.1,22.4 212.2,22.1 213.3,21.9 214.4,21.7 215.6,21.5 216.7,21.3 217.8,21.0 218.9,20.9 220.0,20.7 221.1,20.5 222.2,20.3 223.3,20.1 224.4,20.0 225.6,19.8 226.7,19.7 227.8,19.5 228.9,19.4 230.0,19.2 231.1,19.1 232.2,18.9 233.3,18.8 234.4,18.7 235.5,18.6 236.7,18.5 237.8,18.3 238.9,18.2 240.0,18.1 241.1,18.0 242.2,17.9 243.3,17.8 244.4,17.7 245.5,17.6 246.7,17.5 247.8,17.4 248.9,17.4 250.0,17.3 251.1,17.2 252.2,17.1 253.3,17.0 254.4,17.0 255.5,16.9 256.6,16.8 257.8,16.7 258.9,16.7 260.0,16.6 261.1,16.5 262.2,16.5 263.3,16.4 264.4,16.3 265.5,16.3 266.6,16.2 267.8,16.2 268.9,16.1 270.0,16.1 271.1,16.0 272.2,15.9 273.3,15.9 274.4,15.8 275.5,15.8 276.6,15.7 277.7,15.7 278.9,15.6 280.0,15.6 281.1,15.6 282.2,15.5 283.3,15.5 284.4,15.4 285.5,15.4 286.6,15.3 287.7,15.3 288.9,15.3 290.0,15.2 291.1,15.2 292.2,15.1 293.3,15.1 294.4,15.1 295.5,15.0 296.6,15.0 297.7,15.0 298.8,14.9 300.0,14.9 301.1,14.9 302.2,14.8" stroke="#000000" stroke-width="1.3"/>
<path d="M42.2,207.8 43.3,207.8 44.4,207.8 45.5,207.7 46.6,207.7 47.7,207.7 48.8,207.6 50.0,207.6 51.1,207.5 52.2,207.5 53.3,207.5 54.4,207.4 55.5,207.4 56.6,207.3 57.7,207.3 58.8,207.3 59.9,207.2 61.1,207.2 62.2,207.1 63.3,207.1 64.4,207.0 65.5,207.0 66.6,206.9 67.7,206.9 68.8,206.8 69.9,206.8 71.1,206.7 72.2,206.7 73.3,206.6 74.4,206.6 75.5,206.5 76.6,206.5 77.7,206.4 78.8,206.3 79.9,206.3 81.0,206.2 82.2,206.1 83.3,206.1 84.4,206.0 85.5,205.9 86.6,205.9 87.7,205.8 88.8,205.7 89.9,205.6 91.0,205.6 92.2,205.5 93.3,205.4 94.4,205.3 95.5,205.2 96.6,205.1 97.7,205.1 98.8,205.0 99.9,204.9 101.0,204.8 102.1,204.7 103.3,204.6 104.4,204.5 105.5,204.4 106.6,204.2 107.7,204.1 108.8,204.0 109.9,203.9 111.0,203.8 112.1,203.6 113.3,203.5 114.4,203.4 115.5,203.2 116.6,203.1 117.7,202.9 118.8,202.8 119.9,202.6 121.0,202.5 122.1,202.3 123.3,202.1 124.4,201.9 125.5,201.8 126.6,201.6 127.7,201.4 128.8,201.2 129.9,200.9 131.0,200.7 132.1,200.5 133.2,200.3 134.4,200.0 135.5,199.8 136.6,199.5 137.7,199.2 138.8,199.0 139.9,198.7 140.5,198.5 141.0,198.4 141.6,198.2 142.1,198.0 142.7,197.9 143.2,197.7 143.8,197.5 144.4,197.4 144.9,197.2 145.5,197.0 146.0,196.8 146.6,196.7 147.1,196.5 147.7,196.3 148.2,196.1 148.8,195.9 149.3,195.7 149.9,195.5 150.5,195.2 151.0,195.0 151.6,194.8 152.1,194.6 152.7,194.3 153.2,194.1 153.7,193.9 154.1,193.7 154.6,193.4 155.1,193.2 155.6,192.9 156.1,192.7 156.6,192.4 157.1,192.1 157.6,191.9 158.0,191.6 158.4,191.3 158.9,191.0 159.3,190.7 159.8,190.4 160.2,190.0 160.6,189.7 161.0,189.4 161.4,189.0 161.8,188.6 162.1,188.2 162.5,187.9 162.8,187.5 163.2,187.1 163.5,186.6 163.9,186.1 164.2,185.7 164.4,185.3 164.7,184.8 165.0,184.3 165.3,183.8 165.6,183.3 165.8,182.8 166.1,182.3 166.3,181.8 166.5,181.2 166.8,180.6 167.0,180.0 167.2,179.4 167.4,178.9 167.6,178.3 167.8,177.7 168.0,177.1 168.2,176.5 168.4,175.8 168.6,175.1 168.8,174.4 168.9,173.8 169.1,173.2 169.2,172.6 169.4,172.0 169.5,171.4 169.7,170.7 169.8,170.0 170.0,169.3 170.1,168.6 170.3,167.9 170.4,167.1 170.5,166.3 170.7,165.5 170.8,164.7 171.0,163.9 171.1,163.0 171.3,162.1 171.4,161.5 171.5,160.9 171.6,160.2 171.7,159.6 171.8,158.9 171.9,158.3 172.0,157.6 172.1,156.9 172.2,156.2 172.3,155.5 172.4,154.8 172.4,154.0 172.5,153.3 172.6,152.5 172.7,151.8 172.8,151.0 172.9,150.2 173.0,149.4 173.1,148.6 173.2,147.8 173.3,146.9 173.4,146.1 173.5,145.2 173.6,144.4 173.7,143.5 173.8,142.6 173.9,141.7 174.0,140.8 174.1,139.9 174.2,139.0 174.3,138.0 174.4,137.1 174.5,136.1 174.6,135.2 174.7,134.2 174.8,133.2 174.9,132.2 175.0,131.2 175.1,130.2 175.2,129.2 175.3,128.2 175.4,127.1 175.5,126.1 175.6,125.1 175.7,124.0 175.8,123.0 175.9,121.9 176.0,120.8 176.1,119.8 176.2,118.7 176.3,117.6 176.4,116.5 176.5,115.4 176.5,114.4 176.6,113.3 176.7,112.2 176.8,111.1 176.9,110.0 177.0,108.9 177.1,107.8 177.2,106.7 177.3,105.6 177.4,104.5 177.5,103.4 177.6,102.3 177.7,101.3 177.8,100.2 177.9,99.1 178.0,98.0 178.1,96.9 178.2,95.9 178.3,94.8 178.4,93.8 178.5,92.7 178.6,91.7 178.7,90.6 178.8,89.6 178.9,88.5 179.0,87.5 179.1,86.5 179.2,85.5 179.3,84.5 179.4,83.5 179.5,82.5 179.6,81.6 179.7,80.6 179.8,79.6 179.9,78.7 180.0,77.8 180.1,76.8 180.2,75.9 180.3,75.0 180.4,74.1 180.5,73.2 180.6,72.3 180.6,71.5 180.7,70.6 180.8,69.8 180.9,69.0 181.0,68.1 181.1,67.3 181.2,66.5 181.3,65.7 181.4,65.0 181.5,64.2 181.6,63.4 181.7,62.7 181.8,62.0 181.9,61.3 182.0,60.6 182.1,59.9 182.2,59.2 182.3,58.5 182.4,57.8 182.5,57.2 182.6,56.5 182.7,55.9 182.8,55.3 182.9,54.7 183.0,53.8 183.2,52.9 183.3,52.1 183.5,51.3 183.6,50.5 183.8,49.7 183.9,48.9 184.1,48.2 184.2,47.5 184.4,46.8 184.5,46.1 184.7,45.5 184.8,44.9 184.9,44.3 185.1,43.7 185.2,43.1 185.4,42.5 185.6,41.8 185.8,41.1 186.0,40.5 186.2,39.8 186.4,39.2 186.6,38.7 186.8,38.1 186.9,37.6 187.1,37.1 187.4,36.5 187.6,35.9 187.9,35.3 188.1,34.8 188.4,34.3 188.6,33.9 188.9,33.3 189.2,32.8 189.5,32.4 189.8,31.9 190.1,31.5 190.4,31.0 190.8,30.6 191.1,30.2 191.4,29.8 192.2,29.1 192.8,28.6 193.3,28.1 193.9,27.7 194.5,27.4 195.0,27.0 195.6,26.7 196.1,26.4 196.7,26.1 197.2,25.8 197.8,25.6 198.3,25.4 198.9,25.1 199.5,24.9 200.0,24.7 200.6,24.5 201.1,24.3 201.7,24.1 202.2,24.0 202.8,23.8 203.3,23.6 203.9,23.4 204.5,23.3 205.0,23.1 205.6,23.0 206.1,22.8 207.2,22.6 208.3,22.3 209.4,22.0 210.6,21.8 211.7,21.5 212.8,21.3 213.9,21.1 215.0,20.8 216.1,20.6 217.2,20.4 218.3,20.2 219.4,20.1 220.6,19.9 221.7,19.7 222.8,19.5 223.9,19.4 225.0,19.2 226.1,19.0 227.2,18.9 228.3,18.7 229.4,18.6 230.5,18.5 231.7,18.3 232.8,18.2 233.9,18.1 235.0,17.9 236.1,17.8 237.2,17.7 238.3,17.6 239.4,17.5 240.5,17.4 241.7,17.3 242.8,17.2 243.9,17.1 245.0,17.0 246.1,16.9 247.2,16.8 248.3,16.7 249.4,16.6 250.5,16.5 251.6,16.5 252.8,16.4 253.9,16.3 255.0,16.2 256.1,16.1 257.2,16.1 258.3,16.0 259.4,15.9 260.5,15.9 261.6,15.8 262.8,15.7 263.9,15.7 265.0,15.6 266.1,15.5 267.2,15.5 268.3,15.4 269.4,15.4 270.5,15.3 271.6,15.2 272.8,15.2 273.9,15.1 275.0,15.1 276.1,15.0 277.2,15.0 278.3,14.9 279.4,14.9 280.5,14.8 281.6,14.8 282.7,14.8 283.9,14.7 285.0,14.7 286.1,14.6 287.2,14.6 288.3,14.5 289.4,14.5 290.5,14.5 291.6,14.4 292.7,14.4 293.9,14.3 295.0,14.3 296.1,14.3 297.2,14.2 298.3,14.2 299.4,14.2 300.5,14.1 301.6,14.1 302.2,14.1" stroke="#ff0000" stroke-width="1.6"/>
<path d="M42.2,207.8 43.3,207.8 44.4,207.8 45.5,207.7 46.6,207.7 47.7,207.7 48.8,207.6 50.0,207.6 51.1,207.5 52.2,207.5 53.3,207.5 54.4,207.4 55.5,207.4 56.6,207.3 57.7,207.3 58.8,207.3 59.9,207.2 61.1,207.2 62.2,207.1 63.3,207.1 64.4,207.0 65.5,207.0 66.6,206.9 67.7,206.9 68.8,206.8 69.9,206.8 71.1,206.7 72.2,206.7 73.3,206.6 74.4,206.6 75.5,206.5 76.6,206.5 77.7,206.4 78.8,206.3 79.9,206.3 81.0,206.2 82.2,206.1 83.3,206.1 84.4,206.0 85.5,205.9 86.6,205.9 87.7,205.8 88.8,205.7 89.9,205.6 91.0,205.6 92.2,205.5 93.3,205.4 94.4,205.3 95.5,205.2 96.6,205.1 97.7,205.1 98.8,205.0 99.9,204.9 101.0,204.8 102.1,204.7 103.3,204.6 104.4,204.5 105.5,204.4 106.6,204.2 107.7,204.1 108.8,204.0 109.9,203.9 111.0,203.8 112.1,203.6 113.3,203.5 114.4,203.4 115.5,203.2 116.6,203.1 117.7,202.9 118.8,202.8 119.9,202.6 121.0,202.5 122.1,202.3 123.3,202.1 124.4,201.9 125.5,201.8 126.6,201.6 127.7,201.4 128.8,201.2 129.9,200.9 131.0,200.7 132.1,200.5 133.2,200.3 134.4,200.0 135.5,199.8 136.6,199.5 137.7,199.2 138.8,198.9 139.4,198.8 139.9,198.6 140.5,198.5 141.0,198.3 141.6,198.1 142.1,197.9 142.7,197.8 143.2,197.6 143.8,197.4 144.4,197.2 144.9,197.0 145.5,196.8 146.0,196.5 146.6,196.3 147.1,196.1 147.7,195.8 148.2,195.5 148.8,195.2 149.3,194.9 149.9,194.5 150.5,194.2 151.0,193.8 151.6,193.3 152.1,192.8 152.7,192.3 153.1,191.9 153.4,191.5 153.8,191.1 154.1,190.7 154.4,190.2 154.7,189.8 155.0,189.3 155.3,188.8 155.6,188.3 155.9,187.8 156.1,187.3 156.4,186.8 156.6,186.2 156.9,185.7 157.1,185.1 157.4,184.5 157.6,183.9 157.8,183.4 158.0,182.8 158.1,182.2 158.3,181.6 158.5,180.9 158.7,180.3 158.9,179.5 159.1,178.8 159.3,178.2 159.4,177.6 159.6,177.0 159.7,176.4 159.9,175.8 160.0,175.1 160.1,174.4 160.3,173.7 160.4,173.0 160.6,172.2 160.7,171.4 160.9,170.6 161.0,169.8 161.2,169.0 161.3,168.1 161.5,167.2 161.6,166.6 161.7,166.0 161.8,165.4 161.9,164.7 162.0,164.1 162.1,163.4 162.1,162.7 162.2,162.0 162.3,161.3 162.4,160.6 162.5,159.9 162.6,159.2 162.7,158.5 162.8,157.7 162.9,156.9 163.0,156.2 163.1,155.4 163.2,154.6 163.3,153.8 163.4,152.9 163.5,152.1 163.6,151.3 163.7,150.4 163.8,149.6 163.9,148.7 164.0,147.8 164.1,146.9 164.2,146.0 164.3,145.1 164.4,144.1 164.5,143.2 164.6,142.3 164.7,141.3 164.8,140.3 164.9,139.4 165.0,138.4 165.1,137.4 165.2,136.4 165.3,135.4 165.4,134.4 165.5,133.4 165.6,132.3 165.7,131.3 165.8,130.2 165.9,129.2 166.0,128.1 166.1,127.1 166.2,126.0 166.2,125.0 166.3,123.9 166.4,122.8 166.5,121.7 166.6,120.6 166.7,119.6 166.8,118.5 166.9,117.4 167.0,116.3 167.1,115.2 167.2,114.1 167.3,113.0 167.4,111.9 167.5,110.8 167.6,109.7 167.7,108.6 167.8,107.5 167.9,106.5 168.0,105.4 168.1,104.3 168.2,103.2 168.3,102.1 168.4,101.1 168.5,100.0 168.6,98.9 168.7,97.9 168.8,96.8 168.9,95.8 169.0,94.8 169.1,93.7 169.2,92.7 169.3,91.7 169.4,90.7 169.5,89.7 169.6,88.7 169.7,87.7 169.8,86.7 169.9,85.8 170.0,84.8 170.1,83.9 170.2,82.9 170.3,82.0 170.3,81.1 170.4,80.2 170.5,79.3 170.6,78.4 170.7,77.5 170.8,76.7 170.9,75.8 171.0,75.0 171.1,74.1 171.2,73.3 171.3,72.5 171.4,71.7 171.5,70.9 171.6,70.1 171.7,69.4 171.8,68.6 171.9,67.9 172.0,67.1 172.1,66.4 172.2,65.7 172.3,65.0 172.4,64.3 172.5,63.6 172.6,63.0 172.7,62.3 172.8,61.7 172.9,61.0 173.0,60.4 173.1,59.8 173.2,58.9 173.4,58.0 173.5,57.2 173.7,56.4 173.8,55.6 174.0,54.8 174.1,54.0 174.3,53.3 174.4,52.6 174.5,51.9 174.7,51.2 174.8,50.5 175.0,49.9 175.1,49.3 175.3,48.7 175.4,48.1 175.6,47.5 175.8,46.8 176.0,46.1 176.2,45.4 176.4,44.8 176.5,44.2 176.7,43.6 176.9,43.0 177.1,42.5 177.3,41.9 177.6,41.3 177.8,40.7 178.1,40.1 178.3,39.6 178.5,39.1 178.8,38.6 179.0,38.1 179.3,37.6 179.6,37.1 179.9,36.6 180.2,36.2 180.5,35.8 180.8,35.3 181.2,34.8 181.5,34.4 181.9,34.0 182.2,33.7 182.6,33.3 183.0,32.9 183.4,32.5 183.8,32.2 184.2,31.9 184.6,31.5 185.0,31.2 185.5,30.9 185.9,30.6 186.4,30.3 186.8,30.0 187.3,29.8 187.8,29.5 188.3,29.2 188.8,29.0 189.2,28.7 189.7,28.5 190.2,28.2 190.7,28.0 191.2,27.8 191.7,27.6 192.2,27.3 192.8,27.1 193.3,26.9 193.9,26.7 194.5,26.4 195.0,26.2 195.6,26.0 196.1,25.8 196.7,25.6 197.2,25.4 197.8,25.2 198.3,25.1 198.9,24.9 199.5,24.7 200.0,24.5 200.6,24.4 201.1,24.2 201.7,24.0 202.2,23.9 202.8,23.7 203.3,23.5 203.9,23.4 204.5,23.2 205.0,23.1 206.1,22.8 207.2,22.5 208.3,22.3 209.4,22.0 210.6,21.8 211.7,21.5 212.8,21.3 213.9,21.1 215.0,20.8 216.1,20.6 217.2,20.4 218.3,20.2 219.4,20.1 220.6,19.9 221.7,19.7 222.8,19.5 223.9,19.4 225.0,19.2 226.1,19.0 227.2,18.9 228.3,18.7 229.4,18.6 230.5,18.5 231.7,18.3 232.8,18.2 233.9,18.1 235.0,17.9 236.1,17.8 237.2,17.7 238.3,17.6 239.4,17.5 240.5,17.4 241.7,17.3 242.8,17.2 243.9,17.1 245.0,17.0 246.1,16.9 247.2,16.8 248.3,16.7 249.4,16.6 250.5,16.5 251.6,16.5 252.8,16.4 253.9,16.3 255.0,16.2 256.1,16.1 257.2,16.1 258.3,16.0 259.4,15.9 260.5,15.9 261.6,15.8 262.8,15.7 263.9,15.7 265.0,15.6 266.1,15.5 267.2,15.5 268.3,15.4 269.4,15.4 270.5,15.3 271.6,15.2 272.8,15.2 273.9,15.1 275.0,15.1 276.1,15.0 277.2,15.0 278.3,14.9 279.4,14.9 280.5,14.8 281.6,14.8 282.7,14.8 283.9,14.7 285.0,14.7 286.1,14.6 287.2,14.6 288.3,14.5 289.4,14.5 290.5,14.5 291.6,14.4 292.7,14.4 293.9,14.3 295.0,14.3 296.1,14.3 297.2,14.2 298.3,14.2 299.4,14.2 300.5,14.1 301.6,14.1 302.2,14.1" stroke="#ff0000" stroke-width="1.6"/>
<path d="M42.2,212.5 43.3,212.5 44.4,212.5 45.5,212.4 46.6,212.4 47.7,212.4 48.8,212.3 50.0,212.3 51.1,212.3 52.2,212.3 53.3,212.2 54.4,212.2 55.5,212.2 56.6,212.1 57.7,212.1 58.8,212.1 59.9,212.0 61.1,212.0 62.2,212.0 63.3,211.9 64.4,211.9 65.5,211.8 66.6,211.8 67.7,211.8 68.8,211.7 69.9,211.7 71.1,211.6 72.2,211.6 73.3,211.6 74.4,211.5 75.5,211.5 76.6,211.4 77.7,211.4 78.8,211.3 79.9,211.3 81.0,211.2 82.2,211.2 83.3,211.1 84.4,211.0 85.5,211.0 86.6,210.9 87.7,210.9 88.8,210.8 89.9,210.7 91.0,210.7 92.2,210.6 93.3,210.5 94.4,210.5 95.5,210.4 96.6,210.3 97.7,210.3 98.8,210.2 99.9,210.1 101.0,210.0 102.1,209.9 103.3,209.8 104.4,209.7 105.5,209.6 106.6,209.5 107.7,209.4 108.8,209.3 109.9,209.2 111.0,209.1 112.1,209.0 113.3,208.9 114.4,208.8 115.5,208.6 116.6,208.5 117.7,208.3 118.8,208.2 119.9,208.0 121.0,207.9 122.1,207.7 123.3,207.6 124.4,207.4 125.5,207.2 126.6,207.0 127.7,206.8 128.8,206.6 129.9,206.3 131.0,206.1 132.1,205.9 133.2,205.6 134.4,205.3 135.5,205.0 136.0,204.9 136.6,204.7 137.1,204.6 137.7,204.4 138.2,204.2 138.8,204.0 139.4,203.9 139.9,203.7 140.5,203.5 141.0,203.3 141.6,203.1 142.1,202.9 142.7,202.6 143.2,202.4 143.8,202.2 144.4,201.9 144.9,201.7 145.5,201.4 146.0,201.2 146.6,200.9 147.1,200.6 147.7,200.3 148.2,200.0 148.8,199.7 149.3,199.3 149.9,199.0 150.5,198.6 151.0,198.2 151.6,197.8 152.1,197.4 152.7,197.0 153.1,196.7 153.5,196.4 153.9,196.0 154.2,195.7 154.6,195.3 155.0,195.0 155.4,194.6 155.8,194.2 156.2,193.8 156.5,193.4 156.9,193.0 157.2,192.7 157.6,192.3 157.9,191.9 158.2,191.4 158.6,191.0 158.9,190.6 159.3,190.1 159.6,189.6 159.9,189.2 160.2,188.8 160.5,188.3 160.8,187.9 161.1,187.4 161.4,186.9 161.7,186.4 162.0,185.9 162.2,185.4 162.5,184.9 162.8,184.3 163.1,183.9 163.3,183.4 163.6,182.9 163.8,182.4 164.1,181.9 164.3,181.4 164.5,180.9 164.8,180.3 165.0,179.8 165.3,179.2 165.5,178.6 165.8,178.0 166.0,177.4 166.2,176.8 166.5,176.2 166.7,175.7 166.9,175.2 167.1,174.6 167.3,174.1 167.5,173.6 167.7,173.0 167.9,172.5 168.1,171.9 168.3,171.3 168.4,170.7 168.6,170.1 168.8,169.5 169.0,168.9 169.2,168.3 169.4,167.7 169.6,167.0 169.8,166.4 170.0,165.7 170.2,165.0 170.4,164.3 170.6,163.6 170.8,162.9 170.9,162.3 171.1,161.8 171.2,161.2 171.4,160.6 171.5,160.0 171.7,159.4 171.8,158.7 172.0,158.1 172.1,157.4 172.3,156.8 172.4,156.1 172.5,155.3 172.7,154.6 172.8,153.8 173.0,153.0 173.1,152.2 173.3,151.4 173.4,150.5 173.5,149.9 173.6,149.2 173.7,148.6 173.8,147.9 173.9,147.3 174.0,146.6 174.1,145.8 174.2,145.1 174.3,144.3 174.4,143.5 174.5,142.7 174.6,141.9 174.7,141.0 174.8,140.1 174.9,139.2 175.0,138.2 175.1,137.2 175.2,136.2 175.3,135.2 175.4,134.1 175.5,133.0 175.6,131.9 175.7,130.7 175.8,129.5 175.9,128.2 176.0,126.9 176.0,126.3 176.1,125.6 176.1,124.9 176.2,124.3 176.2,123.6 176.3,122.9 176.3,122.2 176.4,121.4 176.4,120.7 176.5,120.0 176.5,119.2 176.5,118.5 176.6,117.7 176.6,117.0 176.7,116.2 176.7,115.4 176.8,114.6 176.8,113.8 176.9,113.0 176.9,112.2 177.0,111.4 177.0,110.6 177.1,109.8 177.1,108.9 177.2,108.1 177.2,107.3 177.3,106.4 177.3,105.6 177.4,104.7 177.4,103.9 177.5,103.0 177.5,102.1 177.6,101.3 177.6,100.4 177.7,99.5 177.7,98.6 177.8,97.8 177.8,96.9 177.9,96.0 177.9,95.1 178.0,94.2 178.0,93.3 178.1,92.5 178.1,91.6 178.2,90.7 178.2,89.8 178.3,89.0 178.3,88.1 178.4,87.2 178.4,86.4 178.5,85.5 178.5,84.6 178.5,83.8 178.6,82.9 178.6,82.1 178.7,81.2 178.7,80.4 178.8,79.6 178.8,78.8 178.9,77.9 178.9,77.1 179.0,76.3 179.0,75.5 179.1,74.7 179.1,74.0 179.2,73.2 179.2,72.4 179.3,71.7 179.3,70.9 179.4,70.2 179.4,69.5 179.5,68.7 179.5,68.0 179.6,67.3 179.6,66.6 179.7,65.9 179.7,65.3 179.8,64.6 179.8,63.9 179.9,62.6 180.0,61.4 180.1,60.2 180.2,59.0 180.3,57.9 180.4,56.8 180.5,55.7 180.6,54.7 180.7,53.7 180.8,52.7 180.9,51.8 181.0,50.9 181.1,50.1 181.2,49.3 181.3,48.5 181.4,47.7 181.5,47.0 181.6,46.3 181.7,45.6 181.8,45.0 181.9,44.4 182.0,43.5 182.2,42.6 182.3,41.9 182.5,41.1 182.6,40.4 182.7,39.8 182.9,39.1 183.0,38.5 183.2,38.0 183.4,37.3 183.6,36.6 183.8,36.0 184.0,35.5 184.2,34.9 184.4,34.3 184.7,33.8 184.9,33.2 185.1,32.7 185.4,32.3 185.7,31.7 186.0,31.2 186.3,30.8 186.6,30.3 186.8,29.9 187.2,29.4 187.5,29.0 187.9,28.6 188.2,28.2 188.6,27.8 188.9,27.5 189.3,27.1 189.7,26.7 190.1,26.3 190.5,26.0 190.9,25.6 191.2,25.3 191.6,25.0 192.2,24.5 192.8,24.1 193.3,23.7 193.9,23.3 194.5,22.9 195.0,22.6 195.6,22.2 196.1,21.9 196.7,21.6 197.2,21.3 197.8,21.0 198.3,20.7 198.9,20.5 199.5,20.2 200.0,20.0 200.6,19.7 201.1,19.5 201.7,19.3 202.2,19.0 202.8,18.8 203.3,18.6 203.9,18.4 204.5,18.2 205.0,18.0 205.6,17.9 206.1,17.7 206.7,17.5 207.2,17.3 207.8,17.2 208.3,17.0 208.9,16.9 209.4,16.7 210.6,16.4 211.7,16.2 212.8,15.9 213.9,15.7 215.0,15.4 216.1,15.2 217.2,15.0 218.3,14.8 219.4,14.6 220.6,14.4 221.7,14.3 222.8,14.1 223.9,13.9 225.0,13.8 226.1,13.6 227.2,13.5 228.3,13.3 229.4,13.2 230.5,13.1 231.7,13.0 232.8,12.8 233.9,12.7 235.0,12.6 236.1,12.5 237.2,12.4 238.3,12.3 239.4,12.2 240.5,12.1 241.7,12.0 242.8,11.9 243.9,11.9 245.0,11.8 246.1,11.7 247.2,11.6 248.3,11.5 249.4,11.5 250.5,11.4 251.6,11.3 252.8,11.3 253.9,11.2 255.0,11.1 256.1,11.1 257.2,11.0 258.3,10.9 259.4,10.9 260.5,10.8 261.6,10.8 262.8,10.7 263.9,10.7 265.0,10.6 266.1,10.6 267.2,10.5 268.3,10.5 269.4,10.4 270.5,10.4 271.6,10.3 272.8,10.3 273.9,10.2 275.0,10.2 276.1,10.2 277.2,10.1 278.3,10.1 279.4,10.0 280.5,10.0 281.6,10.0 282.7,9.9 283.9,9.9 285.0,9.9 286.1,9.8 287.2,9.8 288.3,9.8 289.4,9.7 290.5,9.7 291.6,9.7 292.7,9.6 293.9,9.6 295.0,9.6 296.1,9.5 297.2,9.5 298.3,9.5 299.4,9.5 300.5,9.4 301.6,9.4 302.2,9.4" stroke="#ff00ff" stroke-width="1.3"/>
<path d="M42.2,212.5 43.3,212.5 44.4,212.5 45.5,212.4 46.6,212.4 47.7,212.4 48.8,212.3 50.0,212.3 51.1,212.3 52.2,212.3 53.3,212.2 54.4,212.2 55.5,212.2 56.6,212.1 57.7,212.1 58.8,212.1 59.9,212.0 61.1,212.0 62.2,212.0 63.3,211.9 64.4,211.9 65.5,211.8 66.6,211.8 67.7,211.8 68.8,211.7 69.9,211.7 71.1,211.6 72.2,211.6 73.3,211.6 74.4,211.5 75.5,211.5 76.6,211.4 77.7,211.4 78.8,211.3 79.9,211.3 81.0,211.2 82.2,211.2 83.3,211.1 84.4,211.0 85.5,211.0 86.6,210.9 87.7,210.9 88.8,210.8 89.9,210.7 91.0,210.7 92.2,210.6 93.3,210.5 94.4,210.5 95.5,210.4 96.6,210.3 97.7,210.3 98.8,210.2 99.9,210.1 101.0,210.0 102.1,209.9 103.3,209.8 104.4,209.7 105.5,209.6 106.6,209.5 107.7,209.4 108.8,209.3 109.9,209.2 111.0,209.1 112.1,209.0 113.3,208.9 114.4,208.8 115.5,208.6 116.6,208.5 117.7,208.3 118.8,208.2 119.9,208.0 121.0,207.9 122.1,207.7 123.3,207.6 124.4,207.4 125.5,207.2 126.6,207.0 127.7,206.8 128.8,206.6 129.9,206.3 131.0,206.1 132.1,205.9 133.2,205.6 134.4,205.3 135.5,205.0 136.0,204.9 136.6,204.7 137.1,204.6 137.7,204.4 138.2,204.2 138.8,204.0 139.4,203.9 139.9,203.7 140.5,203.5 141.0,203.3 141.6,203.1 142.1,202.9 142.7,202.6 143.2,202.4 143.8,202.2 144.4,201.9 144.9,201.7 145.5,201.4 146.0,201.2 146.6,200.9 147.1,200.6 147.7,200.3 148.2,200.0 148.8,199.7 149.3,199.3 149.9,199.0 150.5,198.6 151.0,198.2 151.6,197.8 152.1,197.4 152.7,197.0 153.1,196.7 153.5,196.3 153.9,196.0 154.2,195.6 154.6,195.3 155.0,194.9 155.4,194.5 155.8,194.1 156.1,193.8 156.4,193.4 156.8,193.0 157.1,192.5 157.5,192.1 157.8,191.6 158.0,191.2 158.3,190.8 158.6,190.3 158.9,189.7 159.2,189.3 159.4,188.8 159.7,188.3 159.9,187.7 160.1,187.1 160.3,186.6 160.5,186.0 160.7,185.4 160.9,184.8 161.1,184.1 161.3,183.4 161.5,182.8 161.6,182.1 161.8,181.5 161.9,180.8 162.1,180.0 162.2,179.3 162.3,178.4 162.5,177.5 162.6,176.9 162.7,176.3 162.8,175.6 162.9,174.9 163.0,174.2 163.1,173.4 163.2,172.6 163.3,171.8 163.4,171.0 163.5,170.1 163.6,169.2 163.7,168.2 163.8,167.2 163.9,166.2 164.0,165.1 164.1,164.0 164.2,162.9 164.2,161.7 164.3,160.5 164.4,159.3 164.5,158.0 164.6,157.3 164.6,156.6 164.7,156.0 164.7,155.3 164.8,154.6 164.8,153.9 164.9,153.2 164.9,152.4 165.0,151.7 165.0,151.0 165.1,150.2 165.1,149.5 165.2,148.7 165.2,147.9 165.3,147.2 165.3,146.4 165.4,145.6 165.4,144.8 165.5,144.0 165.5,143.1 165.6,142.3 165.6,141.5 165.7,140.7 165.7,139.8 165.8,139.0 165.8,138.1 165.9,137.3 165.9,136.4 166.0,135.5 166.0,134.7 166.1,133.8 166.1,132.9 166.2,132.1 166.2,131.2 166.2,130.3 166.3,129.4 166.3,128.6 166.4,127.7 166.4,126.8 166.5,125.9 166.5,125.0 166.6,124.1 166.6,123.3 166.7,122.4 166.7,121.5 166.8,120.6 166.8,119.8 166.9,118.9 166.9,118.0 167.0,117.2 167.0,116.3 167.1,115.5 167.1,114.6 167.2,113.8 167.2,113.0 167.3,112.1 167.3,111.3 167.4,110.5 167.4,109.7 167.5,108.9 167.5,108.1 167.6,107.3 167.6,106.5 167.7,105.7 167.7,104.9 167.8,104.2 167.8,103.4 167.9,102.7 167.9,101.9 168.0,101.2 168.0,100.5 168.1,99.7 168.1,99.0 168.2,98.3 168.2,97.6 168.3,97.0 168.3,96.3 168.3,95.6 168.4,95.0 168.5,93.7 168.6,92.4 168.7,91.2 168.8,90.0 168.9,88.9 169.0,87.8 169.1,86.7 169.2,85.7 169.3,84.7 169.4,83.7 169.5,82.7 169.6,81.8 169.7,80.9 169.8,80.0 169.9,79.2 170.0,78.4 170.1,77.6 170.2,76.8 170.3,76.1 170.3,75.3 170.4,74.6 170.5,74.0 170.6,73.3 170.7,72.7 170.8,72.0 170.9,71.4 171.1,70.5 171.2,69.7 171.4,68.9 171.5,68.1 171.7,67.3 171.8,66.6 172.0,65.8 172.1,65.1 172.3,64.5 172.4,63.8 172.5,63.2 172.7,62.5 172.8,61.9 173.0,61.3 173.1,60.7 173.3,60.1 173.4,59.6 173.6,59.0 173.8,58.3 174.0,57.6 174.2,56.9 174.4,56.2 174.5,55.5 174.7,54.9 174.9,54.2 175.1,53.6 175.3,53.0 175.5,52.4 175.7,51.8 175.9,51.2 176.1,50.6 176.3,50.0 176.5,49.4 176.7,48.9 176.9,48.3 177.1,47.8 177.3,47.3 177.5,46.7 177.7,46.2 177.9,45.7 178.1,45.1 178.4,44.5 178.6,43.9 178.8,43.3 179.1,42.7 179.3,42.1 179.6,41.6 179.8,41.0 180.1,40.5 180.3,40.0 180.6,39.5 180.8,39.0 181.0,38.5 181.3,38.0 181.5,37.6 181.8,37.0 182.1,36.5 182.4,36.0 182.7,35.5 183.0,35.0 183.3,34.5 183.6,34.0 183.9,33.6 184.2,33.1 184.5,32.7 184.7,32.3 185.0,31.9 185.4,31.4 185.7,31.0 186.1,30.5 186.4,30.1 186.8,29.7 187.1,29.3 187.4,28.9 187.8,28.5 188.1,28.2 188.5,27.8 188.9,27.4 189.3,27.0 189.7,26.6 190.1,26.3 190.5,25.9 190.9,25.6 191.2,25.3 191.6,24.9 192.2,24.5 192.8,24.1 193.3,23.7 193.9,23.3 194.5,22.9 195.0,22.6 195.6,22.2 196.1,21.9 196.7,21.6 197.2,21.3 197.8,21.0 198.3,20.7 198.9,20.5 199.5,20.2 200.0,20.0 200.6,19.7 201.1,19.5 201.7,19.3 202.2,19.0 202.8,18.8 203.3,18.6 203.9,18.4 204.5,18.2 205.0,18.0 205.6,17.9 206.1,17.7 206.7,17.5 207.2,17.3 207.8,17.2 208.3,17.0 208.9,16.9 209.4,16.7 210.6,16.4 211.7,16.2 212.8,15.9 213.9,15.7 215.0,15.4 216.1,15.2 217.2,15.0 218.3,14.8 219.4,14.6 220.6,14.4 221.7,14.3 222.8,14.1 223.9,13.9 225.0,13.8 226.1,13.6 227.2,13.5 228.3,13.3 229.4,13.2 230.5,13.1 231.7,13.0 232.8,12.8 233.9,12.7 235.0,12.6 236.1,12.5 237.2,12.4 238.3,12.3 239.4,12.2 240.5,12.1 241.7,12.0 242.8,11.9 243.9,11.9 245.0,11.8 246.1,11.7 247.2,11.6 248.3,11.5 249.4,11.5 250.5,11.4 251.6,11.3 252.8,11.3 253.9,11.2 255.0,11.1 256.1,11.1 257.2,11.0 258.3,10.9 259.4,10.9 260.5,10.8 261.6,10.8 262.8,10.7 263.9,10.7 265.0,10.6 266.1,10.6 267.2,10.5 268.3,10.5 269.4,10.4 270.5,10.4 271.6,10.3 272.8,10.3 273.9,10.2 275.0,10.2 276.1,10.2 277.2,10.1 278.3,10.1 279.4,10.0 280.5,10.0 281.6,10.0 282.7,9.9 283.9,9.9 285.0,9.9 286.1,9.8 287.2,9.8 288.3,9.8 289.4,9.7 290.5,9.7 291.6,9.7 292.7,9.6 293.9,9.6 295.0,9.6 296.1,9.5 297.2,9.5 298.3,9.5 299.4,9.5 300.5,9.4 301.6,9.4 302.2,9.4" stroke="#ff00ff" stroke-width="1.3"/>
</g>
<line x1="172.18" y1="5.9" x2="172.18" y2="216.2" stroke="#151515" stroke-width="1.5"/>
<line x1="42.15" y1="110.95" x2="302.2" y2="110.95" stroke="#151515" stroke-width="1.5"/>
<rect x="42.15" y="5.9" width="260.05" height="210.29999999999998" fill="none" stroke="#151515" stroke-width="1.5"/>
<g stroke="#151515" stroke-width="1.3"><line x1="40.15" y1="216.20" x2="42.15" y2="216.20"/><line x1="38.55" y1="204.50" x2="42.15" y2="204.50"/><line x1="40.15" y1="192.81" x2="42.15" y2="192.81"/><line x1="38.55" y1="181.11" x2="42.15" y2="181.11"/><line x1="40.15" y1="169.42" x2="42.15" y2="169.42"/><line x1="38.55" y1="157.73" x2="42.15" y2="157.73"/><line x1="40.15" y1="146.03" x2="42.15" y2="146.03"/><line x1="38.55" y1="134.34" x2="42.15" y2="134.34"/><line x1="40.15" y1="122.64" x2="42.15" y2="122.64"/><line x1="38.55" y1="110.95" x2="42.15" y2="110.95"/><line x1="40.15" y1="99.26" x2="42.15" y2="99.26"/><line x1="38.55" y1="87.56" x2="42.15" y2="87.56"/><line x1="40.15" y1="75.87" x2="42.15" y2="75.87"/><line x1="38.55" y1="64.17" x2="42.15" y2="64.17"/><line x1="40.15" y1="52.48" x2="42.15" y2="52.48"/><line x1="38.55" y1="40.79" x2="42.15" y2="40.79"/><line x1="40.15" y1="29.09" x2="42.15" y2="29.09"/><line x1="38.55" y1="17.40" x2="42.15" y2="17.40"/><line x1="40.15" y1="5.70" x2="42.15" y2="5.70"/><line x1="42.18" y1="216.2" x2="42.18" y2="220.5"/><line x1="74.68" y1="216.2" x2="74.68" y2="218.79999999999998"/><line x1="107.18" y1="216.2" x2="107.18" y2="220.5"/><line x1="139.68" y1="216.2" x2="139.68" y2="218.79999999999998"/><line x1="172.18" y1="216.2" x2="172.18" y2="220.5"/><line x1="204.68" y1="216.2" x2="204.68" y2="218.79999999999998"/><line x1="237.18" y1="216.2" x2="237.18" y2="220.5"/><line x1="269.68" y1="216.2" x2="269.68" y2="218.79999999999998"/><line x1="302.18" y1="216.2" x2="302.18" y2="220.5"/></g>
<g><text transform="translate(35.20,208.50) scale(1.06,1)" font-size="12" text-anchor="end" fill="#111">-80</text><text transform="translate(35.20,185.11) scale(1.06,1)" font-size="12" text-anchor="end" fill="#111">-60</text><text transform="translate(35.20,161.73) scale(1.06,1)" font-size="12" text-anchor="end" fill="#111">-40</text><text transform="translate(35.20,138.34) scale(1.06,1)" font-size="12" text-anchor="end" fill="#111">-20</text><text transform="translate(35.20,114.95) scale(1.06,1)" font-size="12" text-anchor="end" fill="#111">0</text><text transform="translate(35.20,91.56) scale(1.06,1)" font-size="12" text-anchor="end" fill="#111">20</text><text transform="translate(35.20,68.17) scale(1.06,1)" font-size="12" text-anchor="end" fill="#111">40</text><text transform="translate(35.20,44.79) scale(1.06,1)" font-size="12" text-anchor="end" fill="#111">60</text><text transform="translate(35.20,21.40) scale(1.06,1)" font-size="12" text-anchor="end" fill="#111">80</text><text transform="translate(41.88,232.70) scale(1.06,1)" font-size="12" text-anchor="middle" fill="#111">-20000</text><text transform="translate(106.88,232.70) scale(1.06,1)" font-size="12" text-anchor="middle" fill="#111">-10000</text><text transform="translate(171.88,232.70) scale(1.06,1)" font-size="12" text-anchor="middle" fill="#111">0</text><text transform="translate(236.88,232.70) scale(1.06,1)" font-size="12" text-anchor="middle" fill="#111">10000</text><text transform="translate(301.88,232.70) scale(1.06,1)" font-size="12" text-anchor="middle" fill="#111">20000</text></g>
<text transform="translate(172.00,247.30) scale(1.07,1)" font-size="12" text-anchor="middle" fill="#111">H(Oe)</text>
<text transform="translate(10.70,107.00) rotate(-90)" font-size="13" text-anchor="middle" fill="#111">Ms(emu/g)</text>
<text transform="translate(47.40,22.70)" font-size="14" letter-spacing="0.25" fill="#111">(a)</text>
<line x1="46.4" y1="36.7" x2="68.6" y2="36.7" stroke="#000000" stroke-width="1.3"/>
<text transform="translate(71.00,41.00)" font-size="12" fill="#111">CFO-1000</text>
<line x1="46.4" y1="51.2" x2="68.6" y2="51.2" stroke="#ff0000" stroke-width="1.3"/>
<text transform="translate(71.00,55.50)" font-size="12" fill="#111">CFO-1500</text>
<line x1="46.4" y1="65.6" x2="68.6" y2="65.6" stroke="#0000ff" stroke-width="1.3"/>
<text transform="translate(71.00,69.90)" font-size="12" fill="#111">CFO-2000</text>
<line x1="46.4" y1="80.0" x2="68.6" y2="80.0" stroke="#008000" stroke-width="1.3"/>
<text transform="translate(71.00,84.30)" font-size="12" fill="#111">CFO-2500</text>
<line x1="46.4" y1="94.5" x2="68.6" y2="94.5" stroke="#ff00ff" stroke-width="1.3"/>
<text transform="translate(71.00,98.80)" font-size="12" fill="#111">CFO-3000</text>
<rect x="160.3" y="32.4" width="24.9" height="157.8" fill="none" stroke="#111" stroke-width="1.1"/>
<path d="M185.4,100.1 C198,103 208,106 213,110.5 C219,115 223,119 226.6,120" fill="none" stroke="#111" stroke-width="1.2"/>
<path d="M224.2,117.6 L229.4,117.6 L226.8,123.2 Z" fill="#111"/>
<rect x="205.5" y="123.7" width="94.60000000000002" height="70.7" fill="#fff"/>
<clipPath id="ci"><rect x="205.5" y="123.7" width="94.60000000000002" height="70.7"/></clipPath>
<g clip-path="url(#ci)" fill="none" stroke-linejoin="round">
<path d="M203.0,183.5 203.8,183.5 204.6,183.4 205.4,183.3 206.2,183.3 207.0,183.2 207.8,183.1 208.6,183.0 209.4,183.0 210.2,182.9 211.0,182.8 211.8,182.7 212.6,182.7 213.4,182.6 214.2,182.5 215.0,182.4 215.8,182.3 216.6,182.2 217.4,182.2 218.2,182.1 219.0,182.0 219.8,181.9 220.6,181.8 221.4,181.7 222.2,181.6 223.0,181.5 223.8,181.4 224.6,181.3 225.4,181.2 226.2,181.1 227.0,181.0 227.8,180.9 228.6,180.8 229.4,180.7 230.2,180.6 230.9,180.5 231.7,180.4 232.5,180.3 233.3,180.2 234.1,180.0 234.9,179.9 235.7,179.8 236.5,179.7 237.3,179.5 238.1,179.4 238.7,179.3 239.3,179.2 239.9,179.1 240.5,179.0 241.1,178.9 241.7,178.7 242.3,178.6 242.9,178.5 243.5,178.4 244.1,178.3 244.7,178.1 245.3,178.0 245.9,177.9 246.5,177.7 247.1,177.6 247.7,177.5 248.3,177.3 248.9,177.2 249.5,177.0 250.1,176.9 250.7,176.7 251.3,176.6 251.9,176.4 252.5,176.2 253.1,176.0 253.7,175.9 254.3,175.7 254.9,175.5 255.5,175.3 256.1,175.1 256.7,174.9 257.3,174.7 257.9,174.5 258.5,174.3 259.1,174.0 259.7,173.8 260.3,173.6 260.9,173.3 261.5,173.1 262.1,172.8 262.7,172.6 263.3,172.3 263.9,172.0 264.5,171.8 265.1,171.5 265.7,171.2 266.3,170.9 266.9,170.6 267.5,170.3 268.1,169.9 268.7,169.6 269.3,169.3 269.9,168.9 270.5,168.6 271.1,168.2 271.7,167.9 272.3,167.5 272.9,167.1 273.5,166.7 274.1,166.3 274.7,165.9 275.3,165.5 275.8,165.1 276.4,164.7 277.0,164.3 277.6,163.8 278.2,163.4 278.8,163.0 279.4,162.5 280.0,162.1 280.4,161.8 280.8,161.5 281.2,161.2 281.6,160.8 282.0,160.5 282.4,160.2 282.8,159.9 283.2,159.6 283.6,159.3 284.0,159.0 284.4,158.6 284.8,158.3 285.2,158.0 285.6,157.7 286.0,157.4 286.4,157.0 286.8,156.7 287.2,156.4 287.6,156.1 288.0,155.8 288.4,155.4 288.8,155.1 289.2,154.8 289.6,154.5 290.0,154.2 290.4,153.8 290.8,153.5 291.2,153.2 291.6,152.9 292.0,152.6 292.4,152.3 292.8,151.9 293.2,151.6 293.6,151.3 294.0,151.0 294.4,150.7 294.8,150.4 295.4,150.0 296.0,149.5 296.6,149.1 297.2,148.7 297.8,148.2 298.4,147.8 299.0,147.4 299.6,147.0 300.2,146.6 300.8,146.2 301.4,145.8 302.0,145.4 302.6,145.1" stroke="#0000ff" stroke-width="1.2"/>
<path d="M203.0,174.1 203.6,173.8 204.2,173.4 204.8,173.0 205.4,172.6 206.0,172.2 206.6,171.8 207.2,171.4 207.8,171.0 208.4,170.5 209.0,170.1 209.6,169.7 210.2,169.2 210.8,168.8 211.2,168.5 211.6,168.2 212.0,167.9 212.4,167.6 212.8,167.3 213.2,166.9 213.6,166.6 214.0,166.3 214.4,166.0 214.8,165.7 215.2,165.4 215.6,165.0 216.0,164.7 216.4,164.4 216.8,164.1 217.2,163.8 217.6,163.4 218.0,163.1 218.4,162.8 218.8,162.5 219.2,162.2 219.6,161.8 220.0,161.5 220.4,161.2 220.8,160.9 221.2,160.6 221.6,160.2 222.0,159.9 222.4,159.6 222.8,159.3 223.2,159.0 223.6,158.7 224.0,158.4 224.4,158.0 224.8,157.7 225.2,157.4 225.6,157.1 226.0,156.8 226.6,156.4 227.2,155.9 227.8,155.5 228.4,155.1 229.0,154.6 229.6,154.2 230.2,153.8 230.7,153.4 231.3,153.0 231.9,152.6 232.5,152.2 233.1,151.8 233.7,151.5 234.3,151.1 234.9,150.7 235.5,150.4 236.1,150.0 236.7,149.7 237.3,149.4 237.9,149.0 238.5,148.7 239.1,148.4 239.7,148.1 240.3,147.8 240.9,147.5 241.5,147.3 242.1,147.0 242.7,146.7 243.3,146.5 243.9,146.2 244.5,145.9 245.1,145.7 245.7,145.5 246.3,145.2 246.9,145.0 247.5,144.8 248.1,144.6 248.7,144.4 249.3,144.2 249.9,144.0 250.5,143.8 251.1,143.6 251.7,143.4 252.3,143.2 252.9,143.0 253.5,142.9 254.1,142.7 254.7,142.5 255.3,142.4 255.9,142.2 256.5,142.1 257.1,141.9 257.7,141.8 258.3,141.6 258.9,141.5 259.5,141.4 260.1,141.2 260.7,141.1 261.3,141.0 261.9,140.8 262.5,140.7 263.1,140.6 263.7,140.5 264.3,140.4 264.9,140.3 265.5,140.2 266.1,140.0 266.7,139.9 267.3,139.8 267.9,139.7 268.7,139.6 269.5,139.5 270.3,139.3 271.1,139.2 271.9,139.1 272.7,139.0 273.5,138.9 274.3,138.7 275.1,138.6 275.8,138.5 276.6,138.4 277.4,138.3 278.2,138.2 279.0,138.1 279.8,138.0 280.6,137.9 281.4,137.8 282.2,137.7 283.0,137.6 283.8,137.5 284.6,137.4 285.4,137.3 286.2,137.3 287.0,137.2 287.8,137.1 288.6,137.0 289.4,136.9 290.2,136.8 291.0,136.7 291.8,136.7 292.6,136.6 293.4,136.5 294.2,136.4 295.0,136.4 295.8,136.3 296.6,136.2 297.4,136.1 298.2,136.1 299.0,136.0 299.8,135.9 300.6,135.8 301.4,135.8 302.2,135.7 302.6,135.7" stroke="#0000ff" stroke-width="1.2"/>
<path d="M203.0,187.9 203.8,187.8 204.6,187.8 205.4,187.7 206.2,187.6 207.0,187.5 207.8,187.4 208.6,187.3 209.4,187.2 210.2,187.1 211.0,187.0 211.8,186.9 212.6,186.8 213.4,186.7 214.2,186.6 215.0,186.5 215.8,186.4 216.6,186.3 217.4,186.2 218.2,186.1 219.0,186.0 219.8,185.9 220.6,185.7 221.4,185.6 222.2,185.5 223.0,185.4 223.8,185.3 224.6,185.1 225.4,185.0 226.2,184.9 227.0,184.7 227.6,184.6 228.2,184.5 228.8,184.4 229.4,184.3 230.0,184.2 230.5,184.1 231.1,184.0 231.7,183.9 232.3,183.7 232.9,183.6 233.5,183.5 234.1,183.4 234.7,183.3 235.3,183.1 235.9,183.0 236.5,182.8 237.1,182.7 237.7,182.6 238.3,182.4 238.9,182.3 239.5,182.1 240.1,181.9 240.7,181.8 241.3,181.6 241.9,181.4 242.5,181.2 243.1,181.0 243.7,180.8 244.3,180.6 244.9,180.4 245.5,180.2 246.1,180.0 246.7,179.7 247.3,179.5 247.9,179.2 248.5,179.0 249.1,178.7 249.7,178.4 250.3,178.1 250.9,177.8 251.5,177.5 252.1,177.1 252.7,176.8 253.3,176.4 253.9,176.0 254.5,175.6 255.1,175.2 255.7,174.7 256.1,174.4 256.5,174.1 256.9,173.8 257.3,173.5 257.7,173.1 258.1,172.8 258.5,172.4 258.9,172.1 259.3,171.7 259.7,171.3 260.1,170.9 260.5,170.5 260.9,170.1 261.3,169.7 261.7,169.2 262.1,168.8 262.5,168.4 262.9,167.9 263.3,167.4 263.7,167.0 264.1,166.5 264.5,166.0 264.9,165.5 265.3,165.0 265.7,164.5 266.1,164.0 266.5,163.4 266.9,162.9 267.3,162.4 267.7,161.8 268.1,161.3 268.5,160.7 268.9,160.2 269.3,159.6 269.7,159.0 270.1,158.5 270.5,157.9 270.9,157.3 271.3,156.8 271.7,156.2 272.1,155.6 272.5,155.1 272.9,154.5 273.3,153.9 273.7,153.4 274.1,152.8 274.5,152.3 274.9,151.7 275.3,151.2 275.6,150.6 276.0,150.1 276.4,149.6 276.8,149.0 277.2,148.5 277.6,148.0 278.0,147.5 278.4,147.0 278.8,146.6 279.2,146.1 279.6,145.6 280.0,145.2 280.4,144.7 280.8,144.3 281.2,143.9 281.6,143.5 282.0,143.0 282.4,142.6 282.8,142.3 283.2,141.9 283.6,141.5 284.0,141.2 284.4,140.8 284.8,140.5 285.2,140.1 285.6,139.8 286.0,139.5 286.4,139.2 287.0,138.8 287.6,138.3 288.2,137.9 288.8,137.5 289.4,137.2 290.0,136.8 290.6,136.5 291.2,136.2 291.8,135.9 292.4,135.6 293.0,135.3 293.6,135.0 294.2,134.8 294.8,134.5 295.4,134.3 296.0,134.1 296.6,133.9 297.2,133.7 297.8,133.5 298.4,133.3 299.0,133.1 299.6,133.0 300.2,132.8 300.8,132.7 301.4,132.5 302.0,132.4 302.6,132.2" stroke="#008000" stroke-width="1.2"/>
<path d="M203.0,187.0 203.6,186.8 204.2,186.7 204.8,186.5 205.4,186.4 206.0,186.2 206.6,186.1 207.2,185.9 207.8,185.7 208.4,185.5 209.0,185.3 209.6,185.1 210.2,184.9 210.8,184.7 211.4,184.4 212.0,184.2 212.6,183.9 213.2,183.6 213.8,183.3 214.4,183.0 215.0,182.7 215.6,182.4 216.2,182.0 216.8,181.7 217.4,181.3 218.0,180.9 218.6,180.4 219.2,180.0 219.6,179.7 220.0,179.4 220.4,179.1 220.8,178.7 221.2,178.4 221.6,178.0 222.0,177.7 222.4,177.3 222.8,176.9 223.2,176.6 223.6,176.2 224.0,175.7 224.4,175.3 224.8,174.9 225.2,174.5 225.6,174.0 226.0,173.6 226.4,173.1 226.8,172.6 227.2,172.2 227.6,171.7 228.0,171.2 228.4,170.7 228.8,170.2 229.2,169.6 229.6,169.1 230.0,168.6 230.3,168.0 230.7,167.5 231.1,166.9 231.5,166.4 231.9,165.8 232.3,165.3 232.7,164.7 233.1,164.1 233.5,163.6 233.9,163.0 234.3,162.4 234.7,161.9 235.1,161.3 235.5,160.7 235.9,160.2 236.3,159.6 236.7,159.0 237.1,158.5 237.5,157.9 237.9,157.4 238.3,156.8 238.7,156.3 239.1,155.8 239.5,155.2 239.9,154.7 240.3,154.2 240.7,153.7 241.1,153.2 241.5,152.7 241.9,152.2 242.3,151.8 242.7,151.3 243.1,150.8 243.5,150.4 243.9,150.0 244.3,149.5 244.7,149.1 245.1,148.7 245.5,148.3 245.9,147.9 246.3,147.5 246.7,147.1 247.1,146.8 247.5,146.4 247.9,146.1 248.3,145.7 248.7,145.4 249.1,145.1 249.5,144.8 249.9,144.5 250.5,144.0 251.1,143.6 251.7,143.2 252.3,142.8 252.9,142.4 253.5,142.1 254.1,141.7 254.7,141.4 255.3,141.1 255.9,140.8 256.5,140.5 257.1,140.2 257.7,140.0 258.3,139.7 258.9,139.5 259.5,139.2 260.1,139.0 260.7,138.8 261.3,138.6 261.9,138.4 262.5,138.2 263.1,138.0 263.7,137.8 264.3,137.6 264.9,137.4 265.5,137.3 266.1,137.1 266.7,136.9 267.3,136.8 267.9,136.6 268.5,136.5 269.1,136.4 269.7,136.2 270.3,136.1 270.9,135.9 271.5,135.8 272.1,135.7 272.7,135.6 273.3,135.5 273.9,135.3 274.5,135.2 275.1,135.1 275.6,135.0 276.2,134.9 276.8,134.8 277.4,134.7 278.0,134.6 278.6,134.5 279.4,134.3 280.2,134.2 281.0,134.1 281.8,133.9 282.6,133.8 283.4,133.7 284.2,133.6 285.0,133.5 285.8,133.3 286.6,133.2 287.4,133.1 288.2,133.0 289.0,132.9 289.8,132.8 290.6,132.7 291.4,132.6 292.2,132.5 293.0,132.4 293.8,132.3 294.6,132.2 295.4,132.1 296.2,132.0 297.0,131.9 297.8,131.8 298.6,131.7 299.4,131.6 300.2,131.5 301.0,131.4 301.8,131.4 302.6,131.3" stroke="#008000" stroke-width="1.2"/>
<path d="M203.0,190.6 203.8,190.6 204.6,190.5 205.4,190.5 206.2,190.4 207.0,190.4 207.8,190.3 208.6,190.2 209.4,190.2 210.2,190.1 211.0,190.1 211.8,190.0 212.6,189.9 213.4,189.9 214.2,189.8 215.0,189.7 215.8,189.6 216.6,189.6 217.4,189.5 218.2,189.4 219.0,189.3 219.8,189.2 220.6,189.2 221.4,189.1 222.2,189.0 223.0,188.9 223.8,188.8 224.6,188.7 225.4,188.6 226.2,188.4 227.0,188.3 227.8,188.2 228.6,188.1 229.2,188.0 229.8,187.8 230.3,187.7 230.9,187.6 231.5,187.5 232.1,187.4 232.7,187.2 233.3,187.1 233.9,186.9 234.5,186.8 235.1,186.6 235.7,186.5 236.3,186.3 236.9,186.1 237.5,185.9 238.1,185.7 238.7,185.5 239.3,185.3 239.9,185.1 240.5,184.8 241.1,184.6 241.7,184.3 242.3,184.0 242.9,183.7 243.5,183.4 244.1,183.1 244.7,182.7 245.3,182.4 245.9,182.0 246.5,181.6 247.1,181.2 247.7,180.8 248.3,180.3 248.7,180.0 249.1,179.7 249.5,179.3 249.9,179.0 250.3,178.6 250.7,178.3 251.1,177.9 251.5,177.5 251.9,177.1 252.3,176.7 252.7,176.3 253.1,175.9 253.5,175.4 253.9,175.0 254.3,174.5 254.7,174.0 255.1,173.6 255.5,173.1 255.9,172.6 256.3,172.0 256.7,171.5 257.1,171.0 257.5,170.4 257.9,169.9 258.3,169.3 258.7,168.7 259.1,168.2 259.5,167.6 259.9,167.0 260.3,166.4 260.7,165.7 261.1,165.1 261.5,164.5 261.9,163.9 262.3,163.2 262.7,162.6 263.1,161.9 263.5,161.3 263.9,160.6 264.3,160.0 264.7,159.3 265.1,158.7 265.5,158.0 265.9,157.3 266.3,156.7 266.7,156.0 267.1,155.4 267.5,154.7 267.9,154.1 268.3,153.5 268.7,152.8 269.1,152.2 269.5,151.6 269.9,151.0 270.3,150.4 270.7,149.7 271.1,149.2 271.5,148.6 271.9,148.0 272.3,147.4 272.7,146.9 273.1,146.3 273.5,145.8 273.9,145.3 274.3,144.7 274.7,144.2 275.1,143.7 275.4,143.3 275.8,142.8 276.2,142.3 276.6,141.9 277.0,141.4 277.4,141.0 277.8,140.6 278.2,140.2 278.6,139.8 279.0,139.4 279.4,139.0 279.8,138.6 280.2,138.3 280.6,137.9 281.0,137.6 281.4,137.3 281.8,137.0 282.2,136.7 282.8,136.2 283.4,135.8 284.0,135.4 284.6,135.0 285.2,134.7 285.8,134.3 286.4,134.0 287.0,133.7 287.6,133.4 288.2,133.1 288.8,132.8 289.4,132.6 290.0,132.3 290.6,132.1 291.2,131.9 291.8,131.7 292.4,131.5 293.0,131.3 293.6,131.1 294.2,130.9 294.8,130.8 295.4,130.6 296.0,130.5 296.6,130.3 297.2,130.2 297.8,130.1 298.4,130.0 299.0,129.8 299.6,129.7 300.2,129.6 300.8,129.5 301.6,129.4 302.4,129.3 302.6,129.2" stroke="#000000" stroke-width="1.2"/>
<path d="M203.0,190.0 203.8,189.8 204.6,189.7 205.4,189.6 206.0,189.5 206.6,189.4 207.2,189.2 207.8,189.1 208.4,189.0 209.0,188.9 209.6,188.7 210.2,188.6 210.8,188.4 211.4,188.3 212.0,188.1 212.6,187.9 213.2,187.7 213.8,187.5 214.4,187.3 215.0,187.1 215.6,186.9 216.2,186.6 216.8,186.4 217.4,186.1 218.0,185.8 218.6,185.5 219.2,185.2 219.8,184.9 220.4,184.5 221.0,184.2 221.6,183.8 222.2,183.4 222.8,183.0 223.4,182.5 223.8,182.2 224.2,181.9 224.6,181.6 225.0,181.3 225.4,180.9 225.8,180.6 226.2,180.2 226.6,179.8 227.0,179.4 227.4,179.0 227.8,178.6 228.2,178.2 228.6,177.8 229.0,177.3 229.4,176.9 229.8,176.4 230.2,175.9 230.5,175.5 230.9,175.0 231.3,174.5 231.7,173.9 232.1,173.4 232.5,172.9 232.9,172.3 233.3,171.8 233.7,171.2 234.1,170.6 234.5,170.0 234.9,169.5 235.3,168.8 235.7,168.2 236.1,167.6 236.5,167.0 236.9,166.4 237.3,165.7 237.7,165.1 238.1,164.5 238.5,163.8 238.9,163.2 239.3,162.5 239.7,161.9 240.1,161.2 240.5,160.5 240.9,159.9 241.3,159.2 241.7,158.6 242.1,157.9 242.5,157.3 242.9,156.6 243.3,156.0 243.7,155.3 244.1,154.7 244.5,154.1 244.9,153.5 245.3,152.8 245.7,152.2 246.1,151.6 246.5,151.0 246.9,150.5 247.3,149.9 247.7,149.3 248.1,148.8 248.5,148.2 248.9,147.7 249.3,147.2 249.7,146.6 250.1,146.1 250.5,145.6 250.9,145.2 251.3,144.7 251.7,144.2 252.1,143.8 252.5,143.3 252.9,142.9 253.3,142.5 253.7,142.1 254.1,141.7 254.5,141.3 254.9,140.9 255.3,140.6 255.7,140.2 256.1,139.9 256.5,139.5 256.9,139.2 257.3,138.9 257.7,138.6 258.3,138.1 258.9,137.7 259.5,137.3 260.1,136.9 260.7,136.6 261.3,136.2 261.9,135.9 262.5,135.6 263.1,135.3 263.7,135.0 264.3,134.7 264.9,134.5 265.5,134.2 266.1,134.0 266.7,133.8 267.3,133.5 267.9,133.3 268.5,133.1 269.1,133.0 269.7,132.8 270.3,132.6 270.9,132.5 271.5,132.3 272.1,132.2 272.7,132.0 273.3,131.9 273.9,131.8 274.5,131.6 275.1,131.5 275.6,131.4 276.2,131.3 276.8,131.2 277.4,131.1 278.2,130.9 279.0,130.8 279.8,130.7 280.6,130.6 281.4,130.5 282.2,130.4 283.0,130.3 283.8,130.2 284.6,130.1 285.4,130.0 286.2,129.9 287.0,129.8 287.8,129.8 288.6,129.7 289.4,129.6 290.2,129.5 291.0,129.5 291.8,129.4 292.6,129.3 293.4,129.2 294.2,129.2 295.0,129.1 295.8,129.0 296.6,129.0 297.4,128.9 298.2,128.9 299.0,128.8 299.8,128.7 300.6,128.7 301.4,128.6 302.2,128.6 302.6,128.6" stroke="#000000" stroke-width="1.2"/>
<path d="M203.0,191.1 203.8,191.0 204.6,191.0 205.4,190.9 206.2,190.9 207.0,190.8 207.8,190.8 208.6,190.7 209.4,190.6 210.2,190.6 211.0,190.5 211.8,190.4 212.6,190.4 213.4,190.3 214.2,190.2 215.0,190.2 215.8,190.1 216.6,190.0 217.4,189.9 218.2,189.8 219.0,189.8 219.8,189.7 220.6,189.6 221.4,189.5 222.2,189.4 223.0,189.3 223.8,189.2 224.6,189.0 225.4,188.9 226.2,188.8 227.0,188.7 227.6,188.6 228.2,188.5 228.8,188.3 229.4,188.2 230.0,188.1 230.5,188.0 231.1,187.9 231.7,187.7 232.3,187.6 232.9,187.4 233.5,187.3 234.1,187.1 234.7,187.0 235.3,186.8 235.9,186.6 236.5,186.4 237.1,186.2 237.7,186.0 238.3,185.8 238.9,185.6 239.5,185.4 240.1,185.1 240.7,184.9 241.3,184.6 241.9,184.3 242.5,184.1 243.1,183.8 243.7,183.4 244.3,183.1 244.9,182.8 245.5,182.4 246.1,182.1 246.7,181.7 247.3,181.3 247.9,180.9 248.5,180.5 249.1,180.0 249.5,179.7 249.9,179.4 250.3,179.1 250.7,178.7 251.1,178.4 251.5,178.1 251.9,177.7 252.3,177.3 252.7,177.0 253.1,176.6 253.5,176.2 253.9,175.8 254.3,175.4 254.7,175.0 255.1,174.6 255.5,174.2 255.9,173.7 256.3,173.3 256.7,172.8 257.1,172.4 257.5,171.9 257.9,171.4 258.3,170.9 258.7,170.4 259.1,169.9 259.5,169.4 259.9,168.9 260.3,168.4 260.7,167.9 261.1,167.3 261.5,166.8 261.9,166.3 262.3,165.7 262.7,165.2 263.1,164.6 263.5,164.0 263.9,163.5 264.3,162.9 264.7,162.3 265.1,161.8 265.5,161.2 265.9,160.6 266.3,160.0 266.7,159.5 267.1,158.9 267.5,158.3 267.9,157.7 268.3,157.1 268.7,156.5 269.1,156.0 269.5,155.4 269.9,154.8 270.3,154.2 270.7,153.7 271.1,153.1 271.5,152.6 271.9,152.0 272.3,151.4 272.7,150.9 273.1,150.4 273.5,149.8 273.9,149.3 274.3,148.8 274.7,148.2 275.1,147.7 275.4,147.2 275.8,146.7 276.2,146.2 276.6,145.8 277.0,145.3 277.4,144.8 277.8,144.4 278.2,143.9 278.6,143.5 279.0,143.0 279.4,142.6 279.8,142.2 280.2,141.8 280.6,141.4 281.0,141.0 281.4,140.6 281.8,140.2 282.2,139.9 282.6,139.5 283.0,139.1 283.4,138.8 283.8,138.5 284.2,138.1 284.6,137.8 285.0,137.5 285.4,137.2 286.0,136.8 286.6,136.3 287.2,135.9 287.8,135.5 288.4,135.2 289.0,134.8 289.6,134.5 290.2,134.1 290.8,133.8 291.4,133.5 292.0,133.2 292.6,132.9 293.2,132.7 293.8,132.4 294.4,132.2 295.0,131.9 295.6,131.7 296.2,131.5 296.8,131.3 297.4,131.1 298.0,130.9 298.6,130.7 299.2,130.6 299.8,130.4 300.4,130.2 301.0,130.1 301.6,129.9 302.2,129.8 302.6,129.7" stroke="#ff0000" stroke-width="1.2"/>
<path d="M203.0,189.5 203.6,189.3 204.2,189.2 204.8,189.1 205.4,188.9 206.0,188.7 206.6,188.6 207.2,188.4 207.8,188.2 208.4,188.0 209.0,187.8 209.6,187.6 210.2,187.4 210.8,187.2 211.4,186.9 212.0,186.7 212.6,186.4 213.2,186.2 213.8,185.9 214.4,185.6 215.0,185.3 215.6,185.0 216.2,184.6 216.8,184.3 217.4,183.9 218.0,183.5 218.6,183.1 219.2,182.7 219.8,182.3 220.4,181.8 220.8,181.5 221.2,181.2 221.6,180.9 222.0,180.6 222.4,180.2 222.8,179.9 223.2,179.5 223.6,179.2 224.0,178.8 224.4,178.4 224.8,178.0 225.2,177.6 225.6,177.2 226.0,176.8 226.4,176.4 226.8,175.9 227.2,175.5 227.6,175.1 228.0,174.6 228.4,174.1 228.8,173.7 229.2,173.2 229.6,172.7 230.0,172.2 230.3,171.7 230.7,171.2 231.1,170.7 231.5,170.2 231.9,169.6 232.3,169.1 232.7,168.6 233.1,168.0 233.5,167.5 233.9,166.9 234.3,166.4 234.7,165.8 235.1,165.2 235.5,164.7 235.9,164.1 236.3,163.5 236.7,162.9 237.1,162.4 237.5,161.8 237.9,161.2 238.3,160.6 238.7,160.0 239.1,159.5 239.5,158.9 239.9,158.3 240.3,157.7 240.7,157.1 241.1,156.6 241.5,156.0 241.9,155.4 242.3,154.9 242.7,154.3 243.1,153.8 243.5,153.2 243.9,152.7 244.3,152.1 244.7,151.6 245.1,151.1 245.5,150.5 245.9,150.0 246.3,149.5 246.7,149.0 247.1,148.5 247.5,148.0 247.9,147.5 248.3,147.1 248.7,146.6 249.1,146.2 249.5,145.7 249.9,145.3 250.3,144.8 250.7,144.4 251.1,144.0 251.5,143.6 251.9,143.2 252.3,142.8 252.7,142.4 253.1,142.0 253.5,141.7 253.9,141.3 254.3,141.0 254.7,140.6 255.1,140.3 255.5,140.0 255.9,139.6 256.3,139.3 256.7,139.0 257.3,138.6 257.9,138.2 258.5,137.8 259.1,137.4 259.7,137.0 260.3,136.6 260.9,136.3 261.5,136.0 262.1,135.6 262.7,135.3 263.3,135.1 263.9,134.8 264.5,134.5 265.1,134.2 265.7,134.0 266.3,133.8 266.9,133.5 267.5,133.3 268.1,133.1 268.7,132.9 269.3,132.7 269.9,132.5 270.5,132.4 271.1,132.2 271.7,132.0 272.3,131.9 272.9,131.7 273.5,131.6 274.1,131.4 274.7,131.3 275.3,131.2 275.8,131.1 276.4,130.9 277.0,130.8 277.6,130.7 278.2,130.6 278.8,130.5 279.6,130.4 280.4,130.2 281.2,130.1 282.0,130.0 282.8,129.9 283.6,129.8 284.4,129.7 285.2,129.6 286.0,129.5 286.8,129.4 287.6,129.3 288.4,129.3 289.2,129.2 290.0,129.1 290.8,129.0 291.6,128.9 292.4,128.9 293.2,128.8 294.0,128.7 294.8,128.7 295.6,128.6 296.4,128.5 297.2,128.5 298.0,128.4 298.8,128.4 299.6,128.3 300.4,128.2 301.2,128.2 302.0,128.1 302.6,128.1" stroke="#ff0000" stroke-width="1.2"/>
<path d="M203.0,191.7 203.8,191.6 204.6,191.5 205.4,191.4 206.2,191.3 207.0,191.2 207.8,191.1 208.6,190.9 209.4,190.8 210.2,190.7 211.0,190.6 211.8,190.4 212.6,190.3 213.4,190.2 214.0,190.1 214.6,190.0 215.2,189.9 215.8,189.8 216.4,189.6 217.0,189.5 217.6,189.4 218.2,189.3 218.8,189.2 219.4,189.1 220.0,188.9 220.6,188.8 221.2,188.7 221.8,188.5 222.4,188.4 223.0,188.3 223.6,188.1 224.2,188.0 224.8,187.9 225.4,187.7 226.0,187.6 226.6,187.4 227.2,187.3 227.8,187.1 228.4,186.9 229.0,186.8 229.6,186.6 230.2,186.4 230.7,186.3 231.3,186.1 231.9,185.9 232.5,185.7 233.1,185.6 233.7,185.4 234.3,185.2 234.9,185.0 235.5,184.8 236.1,184.6 236.7,184.4 237.3,184.2 237.9,184.0 238.5,183.7 239.1,183.5 239.7,183.3 240.3,183.1 240.9,182.9 241.5,182.6 242.1,182.4 242.7,182.2 243.3,181.9 243.9,181.7 244.5,181.4 245.1,181.2 245.7,180.9 246.3,180.6 246.9,180.4 247.5,180.1 248.1,179.8 248.7,179.5 249.3,179.2 249.9,178.9 250.5,178.6 251.1,178.3 251.7,177.9 252.3,177.6 252.9,177.2 253.5,176.9 254.1,176.5 254.7,176.1 255.3,175.6 255.9,175.2 256.3,174.9 256.7,174.6 257.1,174.2 257.5,173.9 257.9,173.5 258.3,173.2 258.7,172.8 259.1,172.4 259.5,171.9 259.9,171.5 260.3,171.0 260.7,170.5 261.1,170.0 261.5,169.5 261.9,169.0 262.3,168.4 262.7,167.8 263.1,167.2 263.5,166.5 263.9,165.8 264.3,165.1 264.7,164.4 265.1,163.7 265.5,162.9 265.9,162.1 266.3,161.3 266.7,160.4 267.1,159.6 267.5,158.7 267.9,157.8 268.3,156.9 268.7,155.9 269.1,155.0 269.5,154.1 269.9,153.1 270.3,152.2 270.7,151.3 271.1,150.3 271.5,149.4 271.9,148.5 272.3,147.6 272.7,146.8 273.1,145.9 273.5,145.1 273.9,144.3 274.3,143.5 274.7,142.7 275.1,142.0 275.4,141.3 275.8,140.7 276.2,140.0 276.6,139.4 277.0,138.8 277.4,138.2 277.8,137.7 278.2,137.2 278.6,136.7 279.0,136.3 279.4,135.8 279.8,135.4 280.2,135.0 280.6,134.7 281.0,134.3 281.4,134.0 281.8,133.7 282.4,133.3 283.0,132.9 283.6,132.5 284.2,132.1 284.8,131.8 285.4,131.5 286.0,131.3 286.6,131.0 287.2,130.8 287.8,130.6 288.4,130.4 289.0,130.2 289.6,130.0 290.2,129.8 290.8,129.7 291.4,129.5 292.0,129.4 292.6,129.2 293.2,129.1 293.8,129.0 294.4,128.8 295.0,128.7 295.6,128.6 296.2,128.5 296.8,128.4 297.4,128.3 298.2,128.2 299.0,128.0 299.8,127.9 300.6,127.8 301.4,127.7 302.2,127.6 302.6,127.5" stroke="#ff00ff" stroke-width="1.2"/>
<path d="M203.0,191.7 203.8,191.6 204.6,191.5 205.4,191.3 206.2,191.2 207.0,191.1 207.8,191.0 208.6,190.8 209.2,190.7 209.8,190.6 210.4,190.5 211.0,190.4 211.6,190.3 212.2,190.2 212.8,190.0 213.4,189.9 214.0,189.7 214.6,189.6 215.2,189.4 215.8,189.3 216.4,189.1 217.0,188.9 217.6,188.7 218.2,188.5 218.8,188.3 219.4,188.0 220.0,187.8 220.6,187.5 221.2,187.2 221.8,186.8 222.4,186.5 223.0,186.1 223.6,185.7 224.0,185.4 224.4,185.0 224.8,184.7 225.2,184.3 225.6,184.0 226.0,183.6 226.4,183.1 226.8,182.7 227.2,182.2 227.6,181.7 228.0,181.2 228.4,180.7 228.8,180.1 229.2,179.5 229.6,178.9 230.0,178.2 230.3,177.5 230.7,176.8 231.1,176.1 231.5,175.3 231.9,174.5 232.3,173.7 232.7,172.9 233.1,172.0 233.5,171.1 233.9,170.2 234.3,169.3 234.7,168.4 235.1,167.5 235.5,166.5 235.9,165.6 236.3,164.7 236.7,163.7 237.1,162.8 237.5,161.9 237.9,161.0 238.3,160.1 238.7,159.2 239.1,158.4 239.5,157.5 239.9,156.7 240.3,155.9 240.7,155.2 241.1,154.4 241.5,153.7 241.9,153.0 242.3,152.4 242.7,151.7 243.1,151.1 243.5,150.5 243.9,150.0 244.3,149.4 244.7,148.9 245.1,148.4 245.5,147.9 245.9,147.5 246.3,147.0 246.7,146.6 247.1,146.2 247.5,145.9 247.9,145.5 248.3,145.1 248.7,144.8 249.1,144.5 249.5,144.2 249.9,143.8 250.5,143.4 251.1,143.0 251.7,142.6 252.3,142.2 252.9,141.8 253.5,141.5 254.1,141.2 254.7,140.8 255.3,140.5 255.9,140.2 256.5,139.9 257.1,139.6 257.7,139.3 258.3,139.0 258.9,138.8 259.5,138.5 260.1,138.2 260.7,138.0 261.3,137.7 261.9,137.5 262.5,137.2 263.1,137.0 263.7,136.7 264.3,136.5 264.9,136.3 265.5,136.0 266.1,135.8 266.7,135.6 267.3,135.4 267.9,135.2 268.5,135.0 269.1,134.8 269.7,134.6 270.3,134.4 270.9,134.2 271.5,134.0 272.1,133.8 272.7,133.6 273.3,133.4 273.9,133.2 274.5,133.0 275.1,132.9 275.6,132.7 276.2,132.5 276.8,132.4 277.4,132.2 278.0,132.0 278.6,131.9 279.2,131.7 279.8,131.6 280.4,131.4 281.0,131.3 281.6,131.2 282.2,131.0 282.8,130.9 283.4,130.7 284.0,130.6 284.6,130.5 285.2,130.4 285.8,130.2 286.4,130.1 287.0,130.0 287.6,129.9 288.2,129.7 288.8,129.6 289.4,129.5 290.0,129.4 290.6,129.3 291.2,129.2 291.8,129.1 292.4,129.0 293.2,128.9 294.0,128.7 294.8,128.6 295.6,128.5 296.4,128.3 297.2,128.2 298.0,128.1 298.8,128.0 299.6,127.9 300.4,127.8 301.2,127.7 302.0,127.6 302.6,127.5" stroke="#ff00ff" stroke-width="1.2"/>
</g>
<line x1="252.8" y1="123.7" x2="252.8" y2="194.4" stroke="#151515" stroke-width="1.2"/>
<line x1="205.5" y1="159.6" x2="300.1" y2="159.6" stroke="#151515" stroke-width="1.2"/>
<rect x="205.5" y="123.7" width="94.60000000000002" height="70.7" fill="none" stroke="#151515" stroke-width="1.2"/>
<g stroke="#151515" stroke-width="1"><line x1="203.5" y1="186.50" x2="205.5" y2="186.50"/><line x1="203.5" y1="173.05" x2="205.5" y2="173.05"/><line x1="203.5" y1="159.60" x2="205.5" y2="159.60"/><line x1="203.5" y1="146.15" x2="205.5" y2="146.15"/><line x1="203.5" y1="132.70" x2="205.5" y2="132.70"/><line x1="214.50" y1="194.4" x2="214.50" y2="196.4"/><line x1="233.65" y1="194.4" x2="233.65" y2="196.4"/><line x1="252.80" y1="194.4" x2="252.80" y2="196.4"/><line x1="271.95" y1="194.4" x2="271.95" y2="196.4"/><line x1="291.10" y1="194.4" x2="291.10" y2="196.4"/></g>
<g><text transform="translate(202.90,189.20)" font-size="8" text-anchor="end" fill="#111">-60</text><text transform="translate(202.90,175.75)" font-size="8" text-anchor="end" fill="#111">-30</text><text transform="translate(202.90,162.30)" font-size="8" text-anchor="end" fill="#111">0</text><text transform="translate(202.90,148.85)" font-size="8" text-anchor="end" fill="#111">30</text><text transform="translate(202.90,135.40)" font-size="8" text-anchor="end" fill="#111">60</text><text transform="translate(214.50,203.60)" font-size="8" text-anchor="middle" fill="#111">-2000</text><text transform="translate(252.80,203.60)" font-size="8" text-anchor="middle" fill="#111">0</text><text transform="translate(291.10,203.60)" font-size="8" text-anchor="middle" fill="#111">2000</text></g>
<text transform="translate(252.40,212.30)" font-size="8" text-anchor="middle" fill="#111">H(Oe)</text>
<text transform="translate(192.80,151.40) rotate(-90)" font-size="8.2" text-anchor="middle" fill="#111">Ms/Am<tspan font-size="5.4" dy="-3.2">2</tspan><tspan dy="3.2">/kg</tspan></text>
<path d="M389.30,52.53 L446.02,45.09 L502.75,102.41 L559.48,48.40 L616.20,9.33" fill="none" stroke="#000" stroke-width="1.3" stroke-linejoin="miter"/>
<rect x="387.70" y="50.93" width="3.2" height="3.2" fill="#000"/><rect x="444.42" y="43.49" width="3.2" height="3.2" fill="#000"/><rect x="501.15" y="100.81" width="3.2" height="3.2" fill="#000"/><rect x="557.88" y="46.80" width="3.2" height="3.2" fill="#000"/><rect x="614.60" y="7.73" width="3.2" height="3.2" fill="#000"/>
<path d="M387.50,68.99 L444.55,36.50 L501.60,96.00 L558.65,46.20 L615.70,16.45" fill="none" stroke="#ff0000" stroke-width="1.7" stroke-linejoin="miter"/>
<rect x="385.70" y="67.19" width="3.6" height="3.6" fill="#ff0000"/><rect x="442.75" y="34.70" width="3.6" height="3.6" fill="#ff0000"/><rect x="499.80" y="94.20" width="3.6" height="3.6" fill="#ff0000"/><rect x="556.85" y="44.40" width="3.6" height="3.6" fill="#ff0000"/><rect x="613.90" y="14.65" width="3.6" height="3.6" fill="#ff0000"/>
<path d="M389.30,206.78 L446.02,197.32 L502.75,127.19 L559.48,184.98 L616.20,195.14" fill="none" stroke="#0000ff" stroke-width="1.3" stroke-linejoin="miter"/>
<rect x="387.55" y="205.03" width="3.5" height="3.5" fill="#0000ff"/><rect x="444.27" y="195.57" width="3.5" height="3.5" fill="#0000ff"/><rect x="501.00" y="125.44" width="3.5" height="3.5" fill="#0000ff"/><rect x="557.73" y="183.23" width="3.5" height="3.5" fill="#0000ff"/><rect x="614.45" y="193.39" width="3.5" height="3.5" fill="#0000ff"/>
<rect x="361.4" y="6.0" width="283.0" height="210.5" fill="none" stroke="#151515" stroke-width="1.6"/>
<line x1="359.2" y1="112.2" x2="644.4" y2="112.2" stroke="#000" stroke-width="1.9"/>
<g stroke="#151515" stroke-width="1.3"><line x1="359.79999999999995" y1="111.12" x2="361.4" y2="111.12"/><line x1="358.79999999999995" y1="96.10" x2="361.4" y2="96.10"/><line x1="359.79999999999995" y1="81.08" x2="361.4" y2="81.08"/><line x1="358.79999999999995" y1="66.05" x2="361.4" y2="66.05"/><line x1="359.79999999999995" y1="51.03" x2="361.4" y2="51.03"/><line x1="358.79999999999995" y1="36.00" x2="361.4" y2="36.00"/><line x1="359.79999999999995" y1="20.98" x2="361.4" y2="20.98"/><line x1="358.79999999999995" y1="5.95" x2="361.4" y2="5.95"/><line x1="644.4" y1="111.40" x2="647.1999999999999" y2="111.40"/><line x1="644.4" y1="100.85" x2="646.0" y2="100.85"/><line x1="644.4" y1="90.30" x2="647.1999999999999" y2="90.30"/><line x1="644.4" y1="79.75" x2="646.0" y2="79.75"/><line x1="644.4" y1="69.20" x2="647.1999999999999" y2="69.20"/><line x1="644.4" y1="58.65" x2="646.0" y2="58.65"/><line x1="644.4" y1="48.10" x2="647.1999999999999" y2="48.10"/><line x1="644.4" y1="37.55" x2="646.0" y2="37.55"/><line x1="644.4" y1="27.00" x2="647.1999999999999" y2="27.00"/><line x1="644.4" y1="16.45" x2="646.0" y2="16.45"/><line x1="644.4" y1="5.90" x2="647.1999999999999" y2="5.90"/><line x1="358.79999999999995" y1="207.74" x2="361.4" y2="207.74"/><line x1="359.79999999999995" y1="194.61" x2="361.4" y2="194.61"/><line x1="358.79999999999995" y1="181.48" x2="361.4" y2="181.48"/><line x1="359.79999999999995" y1="168.34" x2="361.4" y2="168.34"/><line x1="358.79999999999995" y1="155.21" x2="361.4" y2="155.21"/><line x1="359.79999999999995" y1="142.07" x2="361.4" y2="142.07"/><line x1="358.79999999999995" y1="128.94" x2="361.4" y2="128.94"/><line x1="359.79999999999995" y1="115.81" x2="361.4" y2="115.81"/><line x1="360.94" y1="216.5" x2="360.94" y2="218.7"/><line x1="389.30" y1="216.5" x2="389.30" y2="220.4"/><line x1="417.66" y1="216.5" x2="417.66" y2="218.7"/><line x1="446.02" y1="216.5" x2="446.02" y2="220.4"/><line x1="474.39" y1="216.5" x2="474.39" y2="218.7"/><line x1="502.75" y1="216.5" x2="502.75" y2="220.4"/><line x1="531.11" y1="216.5" x2="531.11" y2="218.7"/><line x1="559.48" y1="216.5" x2="559.48" y2="220.4"/><line x1="587.84" y1="216.5" x2="587.84" y2="218.7"/><line x1="616.20" y1="216.5" x2="616.20" y2="220.4"/><line x1="644.56" y1="216.5" x2="644.56" y2="218.7"/></g>
<g><text transform="translate(357.20,100.30) scale(1.08,1)" font-size="12.4" text-anchor="end" fill="#111">76</text><text transform="translate(357.20,70.25) scale(1.08,1)" font-size="12.4" text-anchor="end" fill="#111">80</text><text transform="translate(357.20,40.20) scale(1.08,1)" font-size="12.4" text-anchor="end" fill="#111">84</text><text transform="translate(357.20,10.15) scale(1.08,1)" font-size="12.4" text-anchor="end" fill="#111">88</text><text transform="translate(648.60,115.80) scale(1.1,1)" font-size="12.8" fill="#111">35</text><text transform="translate(648.60,94.70) scale(1.1,1)" font-size="12.8" fill="#111">36</text><text transform="translate(648.60,73.60) scale(1.1,1)" font-size="12.8" fill="#111">37</text><text transform="translate(648.60,52.50) scale(1.1,1)" font-size="12.8" fill="#111">38</text><text transform="translate(648.60,31.40) scale(1.1,1)" font-size="12.8" fill="#111">39</text><text transform="translate(648.60,10.30) scale(1.1,1)" font-size="12.8" fill="#111">40</text><text transform="translate(355.60,211.94) scale(1.08,1)" font-size="12.4" text-anchor="end" fill="#111">600</text><text transform="translate(355.60,185.68) scale(1.08,1)" font-size="12.4" text-anchor="end" fill="#111">900</text><text transform="translate(355.60,159.41) scale(1.08,1)" font-size="12.4" text-anchor="end" fill="#111">1200</text><text transform="translate(355.60,133.14) scale(1.08,1)" font-size="12.4" text-anchor="end" fill="#111">1500</text><text transform="translate(389.30,232.00) scale(1.09,1)" font-size="12" text-anchor="middle" fill="#111">1000</text><text transform="translate(446.02,232.00) scale(1.09,1)" font-size="12" text-anchor="middle" fill="#111">1500</text><text transform="translate(502.75,232.00) scale(1.09,1)" font-size="12" text-anchor="middle" fill="#111">2000</text><text transform="translate(559.48,232.00) scale(1.09,1)" font-size="12" text-anchor="middle" fill="#111">2500</text><text transform="translate(616.20,232.00) scale(1.09,1)" font-size="12" text-anchor="middle" fill="#111">3000</text></g>
<text transform="translate(503.20,253.40)" font-size="12.2" text-anchor="middle" letter-spacing="0.42" fill="#111">Rotational Speed (r/min)</text>
<text transform="translate(336.40,51.40) rotate(-90)" font-size="13.5" text-anchor="middle" fill="#111">Ms(emu/g)</text>
<text transform="translate(322.30,170.30) rotate(-90)" font-size="13.8" text-anchor="middle" fill="#111">Hc(Oe)</text>
<text transform="translate(681.60,53.40) rotate(-90)" font-size="13.6" text-anchor="middle" letter-spacing="0.7" fill="#111">Mr(emu/g)</text>
<text transform="translate(365.60,22.60)" font-size="14" letter-spacing="0.25" fill="#111">(b)</text>
<line x1="365.2" y1="36.5" x2="381.9" y2="36.5" stroke="#000" stroke-width="1.3"/><rect x="371.40" y="34.60" width="3.8" height="3.8" fill="#000"/>
<text transform="translate(387.80,38.80)" font-size="12.4" fill="#111">Ms</text>
<line x1="374" y1="44.4" x2="396.7" y2="44.4" stroke="#000" stroke-width="1.3"/><path d="M371.4,44.4 L379.2,42.0 L379.2,46.8 Z" fill="#000"/>
<line x1="595.3" y1="32.1" x2="626" y2="32.1" stroke="#ff0000" stroke-width="1.3"/><path d="M631.8,32.1 L624.6,29.6 L624.6,34.6 Z" fill="#ff0000"/>
<line x1="599.4" y1="102.9" x2="617.3" y2="102.9" stroke="#ff0000" stroke-width="1.7"/><rect x="606.80" y="100.90" width="4.0" height="4.0" fill="#ff0000"/>
<text transform="translate(620.60,105.40)" font-size="12.4" fill="#111">Mr</text>
<line x1="603" y1="125.2" x2="618.9" y2="125.2" stroke="#0000ff" stroke-width="1.4"/><rect x="609.10" y="123.30" width="3.8" height="3.8" fill="#0000ff"/>
<text transform="translate(621.60,127.30)" font-size="12.4" fill="#111">Hc</text>
</svg>
</body></html>
